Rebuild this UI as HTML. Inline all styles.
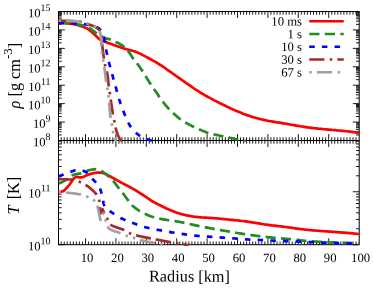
<!DOCTYPE html>
<html><head><meta charset="utf-8"><title>plot</title><style>html,body{margin:0;padding:0;background:#fff}svg{display:block;will-change:transform;opacity:.999}</style></head><body>
<svg width="374" height="288" viewBox="0 0 374 288" font-family="'Liberation Serif', 'Times New Roman', serif" fill="#000">
<defs><clipPath id="ct"><rect x="58.50" y="10.30" width="301.90" height="131.40"/></clipPath><clipPath id="cb"><rect x="58.50" y="139.30" width="301.90" height="106.60"/></clipPath></defs>
<rect width="374" height="288" fill="#fff"/>
<g stroke="#000" stroke-width="0.90"><line x1="61.18" y1="11.50" x2="61.18" y2="14.70"/><line x1="61.18" y1="137.30" x2="61.18" y2="143.70"/><line x1="61.18" y1="241.50" x2="61.18" y2="244.70"/><line x1="64.22" y1="11.50" x2="64.22" y2="14.70"/><line x1="64.22" y1="137.30" x2="64.22" y2="143.70"/><line x1="64.22" y1="241.50" x2="64.22" y2="244.70"/><line x1="67.26" y1="11.50" x2="67.26" y2="14.70"/><line x1="67.26" y1="137.30" x2="67.26" y2="143.70"/><line x1="67.26" y1="241.50" x2="67.26" y2="244.70"/><line x1="70.30" y1="11.50" x2="70.30" y2="14.70"/><line x1="70.30" y1="137.30" x2="70.30" y2="143.70"/><line x1="70.30" y1="241.50" x2="70.30" y2="244.70"/><line x1="73.34" y1="11.50" x2="73.34" y2="14.70"/><line x1="73.34" y1="137.30" x2="73.34" y2="143.70"/><line x1="73.34" y1="241.50" x2="73.34" y2="244.70"/><line x1="76.38" y1="11.50" x2="76.38" y2="14.70"/><line x1="76.38" y1="137.30" x2="76.38" y2="143.70"/><line x1="76.38" y1="241.50" x2="76.38" y2="244.70"/><line x1="79.42" y1="11.50" x2="79.42" y2="14.70"/><line x1="79.42" y1="137.30" x2="79.42" y2="143.70"/><line x1="79.42" y1="241.50" x2="79.42" y2="244.70"/><line x1="82.46" y1="11.50" x2="82.46" y2="14.70"/><line x1="82.46" y1="137.30" x2="82.46" y2="143.70"/><line x1="82.46" y1="241.50" x2="82.46" y2="244.70"/><line x1="85.50" y1="11.50" x2="85.50" y2="17.90"/><line x1="85.50" y1="134.10" x2="85.50" y2="146.90"/><line x1="85.50" y1="238.30" x2="85.50" y2="244.70"/><line x1="88.54" y1="11.50" x2="88.54" y2="14.70"/><line x1="88.54" y1="137.30" x2="88.54" y2="143.70"/><line x1="88.54" y1="241.50" x2="88.54" y2="244.70"/><line x1="91.58" y1="11.50" x2="91.58" y2="14.70"/><line x1="91.58" y1="137.30" x2="91.58" y2="143.70"/><line x1="91.58" y1="241.50" x2="91.58" y2="244.70"/><line x1="94.62" y1="11.50" x2="94.62" y2="14.70"/><line x1="94.62" y1="137.30" x2="94.62" y2="143.70"/><line x1="94.62" y1="241.50" x2="94.62" y2="244.70"/><line x1="97.66" y1="11.50" x2="97.66" y2="14.70"/><line x1="97.66" y1="137.30" x2="97.66" y2="143.70"/><line x1="97.66" y1="241.50" x2="97.66" y2="244.70"/><line x1="100.70" y1="11.50" x2="100.70" y2="14.70"/><line x1="100.70" y1="137.30" x2="100.70" y2="143.70"/><line x1="100.70" y1="241.50" x2="100.70" y2="244.70"/><line x1="103.74" y1="11.50" x2="103.74" y2="14.70"/><line x1="103.74" y1="137.30" x2="103.74" y2="143.70"/><line x1="103.74" y1="241.50" x2="103.74" y2="244.70"/><line x1="106.78" y1="11.50" x2="106.78" y2="14.70"/><line x1="106.78" y1="137.30" x2="106.78" y2="143.70"/><line x1="106.78" y1="241.50" x2="106.78" y2="244.70"/><line x1="109.82" y1="11.50" x2="109.82" y2="14.70"/><line x1="109.82" y1="137.30" x2="109.82" y2="143.70"/><line x1="109.82" y1="241.50" x2="109.82" y2="244.70"/><line x1="112.86" y1="11.50" x2="112.86" y2="14.70"/><line x1="112.86" y1="137.30" x2="112.86" y2="143.70"/><line x1="112.86" y1="241.50" x2="112.86" y2="244.70"/><line x1="115.90" y1="11.50" x2="115.90" y2="17.90"/><line x1="115.90" y1="134.10" x2="115.90" y2="146.90"/><line x1="115.90" y1="238.30" x2="115.90" y2="244.70"/><line x1="118.94" y1="11.50" x2="118.94" y2="14.70"/><line x1="118.94" y1="137.30" x2="118.94" y2="143.70"/><line x1="118.94" y1="241.50" x2="118.94" y2="244.70"/><line x1="121.98" y1="11.50" x2="121.98" y2="14.70"/><line x1="121.98" y1="137.30" x2="121.98" y2="143.70"/><line x1="121.98" y1="241.50" x2="121.98" y2="244.70"/><line x1="125.02" y1="11.50" x2="125.02" y2="14.70"/><line x1="125.02" y1="137.30" x2="125.02" y2="143.70"/><line x1="125.02" y1="241.50" x2="125.02" y2="244.70"/><line x1="128.06" y1="11.50" x2="128.06" y2="14.70"/><line x1="128.06" y1="137.30" x2="128.06" y2="143.70"/><line x1="128.06" y1="241.50" x2="128.06" y2="244.70"/><line x1="131.10" y1="11.50" x2="131.10" y2="14.70"/><line x1="131.10" y1="137.30" x2="131.10" y2="143.70"/><line x1="131.10" y1="241.50" x2="131.10" y2="244.70"/><line x1="134.14" y1="11.50" x2="134.14" y2="14.70"/><line x1="134.14" y1="137.30" x2="134.14" y2="143.70"/><line x1="134.14" y1="241.50" x2="134.14" y2="244.70"/><line x1="137.18" y1="11.50" x2="137.18" y2="14.70"/><line x1="137.18" y1="137.30" x2="137.18" y2="143.70"/><line x1="137.18" y1="241.50" x2="137.18" y2="244.70"/><line x1="140.22" y1="11.50" x2="140.22" y2="14.70"/><line x1="140.22" y1="137.30" x2="140.22" y2="143.70"/><line x1="140.22" y1="241.50" x2="140.22" y2="244.70"/><line x1="143.26" y1="11.50" x2="143.26" y2="14.70"/><line x1="143.26" y1="137.30" x2="143.26" y2="143.70"/><line x1="143.26" y1="241.50" x2="143.26" y2="244.70"/><line x1="146.30" y1="11.50" x2="146.30" y2="17.90"/><line x1="146.30" y1="134.10" x2="146.30" y2="146.90"/><line x1="146.30" y1="238.30" x2="146.30" y2="244.70"/><line x1="149.34" y1="11.50" x2="149.34" y2="14.70"/><line x1="149.34" y1="137.30" x2="149.34" y2="143.70"/><line x1="149.34" y1="241.50" x2="149.34" y2="244.70"/><line x1="152.38" y1="11.50" x2="152.38" y2="14.70"/><line x1="152.38" y1="137.30" x2="152.38" y2="143.70"/><line x1="152.38" y1="241.50" x2="152.38" y2="244.70"/><line x1="155.42" y1="11.50" x2="155.42" y2="14.70"/><line x1="155.42" y1="137.30" x2="155.42" y2="143.70"/><line x1="155.42" y1="241.50" x2="155.42" y2="244.70"/><line x1="158.46" y1="11.50" x2="158.46" y2="14.70"/><line x1="158.46" y1="137.30" x2="158.46" y2="143.70"/><line x1="158.46" y1="241.50" x2="158.46" y2="244.70"/><line x1="161.50" y1="11.50" x2="161.50" y2="14.70"/><line x1="161.50" y1="137.30" x2="161.50" y2="143.70"/><line x1="161.50" y1="241.50" x2="161.50" y2="244.70"/><line x1="164.54" y1="11.50" x2="164.54" y2="14.70"/><line x1="164.54" y1="137.30" x2="164.54" y2="143.70"/><line x1="164.54" y1="241.50" x2="164.54" y2="244.70"/><line x1="167.58" y1="11.50" x2="167.58" y2="14.70"/><line x1="167.58" y1="137.30" x2="167.58" y2="143.70"/><line x1="167.58" y1="241.50" x2="167.58" y2="244.70"/><line x1="170.62" y1="11.50" x2="170.62" y2="14.70"/><line x1="170.62" y1="137.30" x2="170.62" y2="143.70"/><line x1="170.62" y1="241.50" x2="170.62" y2="244.70"/><line x1="173.66" y1="11.50" x2="173.66" y2="14.70"/><line x1="173.66" y1="137.30" x2="173.66" y2="143.70"/><line x1="173.66" y1="241.50" x2="173.66" y2="244.70"/><line x1="176.70" y1="11.50" x2="176.70" y2="17.90"/><line x1="176.70" y1="134.10" x2="176.70" y2="146.90"/><line x1="176.70" y1="238.30" x2="176.70" y2="244.70"/><line x1="179.74" y1="11.50" x2="179.74" y2="14.70"/><line x1="179.74" y1="137.30" x2="179.74" y2="143.70"/><line x1="179.74" y1="241.50" x2="179.74" y2="244.70"/><line x1="182.78" y1="11.50" x2="182.78" y2="14.70"/><line x1="182.78" y1="137.30" x2="182.78" y2="143.70"/><line x1="182.78" y1="241.50" x2="182.78" y2="244.70"/><line x1="185.82" y1="11.50" x2="185.82" y2="14.70"/><line x1="185.82" y1="137.30" x2="185.82" y2="143.70"/><line x1="185.82" y1="241.50" x2="185.82" y2="244.70"/><line x1="188.86" y1="11.50" x2="188.86" y2="14.70"/><line x1="188.86" y1="137.30" x2="188.86" y2="143.70"/><line x1="188.86" y1="241.50" x2="188.86" y2="244.70"/><line x1="191.90" y1="11.50" x2="191.90" y2="14.70"/><line x1="191.90" y1="137.30" x2="191.90" y2="143.70"/><line x1="191.90" y1="241.50" x2="191.90" y2="244.70"/><line x1="194.94" y1="11.50" x2="194.94" y2="14.70"/><line x1="194.94" y1="137.30" x2="194.94" y2="143.70"/><line x1="194.94" y1="241.50" x2="194.94" y2="244.70"/><line x1="197.98" y1="11.50" x2="197.98" y2="14.70"/><line x1="197.98" y1="137.30" x2="197.98" y2="143.70"/><line x1="197.98" y1="241.50" x2="197.98" y2="244.70"/><line x1="201.02" y1="11.50" x2="201.02" y2="14.70"/><line x1="201.02" y1="137.30" x2="201.02" y2="143.70"/><line x1="201.02" y1="241.50" x2="201.02" y2="244.70"/><line x1="204.06" y1="11.50" x2="204.06" y2="14.70"/><line x1="204.06" y1="137.30" x2="204.06" y2="143.70"/><line x1="204.06" y1="241.50" x2="204.06" y2="244.70"/><line x1="207.10" y1="11.50" x2="207.10" y2="17.90"/><line x1="207.10" y1="134.10" x2="207.10" y2="146.90"/><line x1="207.10" y1="238.30" x2="207.10" y2="244.70"/><line x1="210.14" y1="11.50" x2="210.14" y2="14.70"/><line x1="210.14" y1="137.30" x2="210.14" y2="143.70"/><line x1="210.14" y1="241.50" x2="210.14" y2="244.70"/><line x1="213.18" y1="11.50" x2="213.18" y2="14.70"/><line x1="213.18" y1="137.30" x2="213.18" y2="143.70"/><line x1="213.18" y1="241.50" x2="213.18" y2="244.70"/><line x1="216.22" y1="11.50" x2="216.22" y2="14.70"/><line x1="216.22" y1="137.30" x2="216.22" y2="143.70"/><line x1="216.22" y1="241.50" x2="216.22" y2="244.70"/><line x1="219.26" y1="11.50" x2="219.26" y2="14.70"/><line x1="219.26" y1="137.30" x2="219.26" y2="143.70"/><line x1="219.26" y1="241.50" x2="219.26" y2="244.70"/><line x1="222.30" y1="11.50" x2="222.30" y2="14.70"/><line x1="222.30" y1="137.30" x2="222.30" y2="143.70"/><line x1="222.30" y1="241.50" x2="222.30" y2="244.70"/><line x1="225.34" y1="11.50" x2="225.34" y2="14.70"/><line x1="225.34" y1="137.30" x2="225.34" y2="143.70"/><line x1="225.34" y1="241.50" x2="225.34" y2="244.70"/><line x1="228.38" y1="11.50" x2="228.38" y2="14.70"/><line x1="228.38" y1="137.30" x2="228.38" y2="143.70"/><line x1="228.38" y1="241.50" x2="228.38" y2="244.70"/><line x1="231.42" y1="11.50" x2="231.42" y2="14.70"/><line x1="231.42" y1="137.30" x2="231.42" y2="143.70"/><line x1="231.42" y1="241.50" x2="231.42" y2="244.70"/><line x1="234.46" y1="11.50" x2="234.46" y2="14.70"/><line x1="234.46" y1="137.30" x2="234.46" y2="143.70"/><line x1="234.46" y1="241.50" x2="234.46" y2="244.70"/><line x1="237.50" y1="11.50" x2="237.50" y2="17.90"/><line x1="237.50" y1="134.10" x2="237.50" y2="146.90"/><line x1="237.50" y1="238.30" x2="237.50" y2="244.70"/><line x1="240.54" y1="11.50" x2="240.54" y2="14.70"/><line x1="240.54" y1="137.30" x2="240.54" y2="143.70"/><line x1="240.54" y1="241.50" x2="240.54" y2="244.70"/><line x1="243.58" y1="11.50" x2="243.58" y2="14.70"/><line x1="243.58" y1="137.30" x2="243.58" y2="143.70"/><line x1="243.58" y1="241.50" x2="243.58" y2="244.70"/><line x1="246.62" y1="11.50" x2="246.62" y2="14.70"/><line x1="246.62" y1="137.30" x2="246.62" y2="143.70"/><line x1="246.62" y1="241.50" x2="246.62" y2="244.70"/><line x1="249.66" y1="11.50" x2="249.66" y2="14.70"/><line x1="249.66" y1="137.30" x2="249.66" y2="143.70"/><line x1="249.66" y1="241.50" x2="249.66" y2="244.70"/><line x1="252.70" y1="11.50" x2="252.70" y2="14.70"/><line x1="252.70" y1="137.30" x2="252.70" y2="143.70"/><line x1="252.70" y1="241.50" x2="252.70" y2="244.70"/><line x1="255.74" y1="11.50" x2="255.74" y2="14.70"/><line x1="255.74" y1="137.30" x2="255.74" y2="143.70"/><line x1="255.74" y1="241.50" x2="255.74" y2="244.70"/><line x1="258.78" y1="11.50" x2="258.78" y2="14.70"/><line x1="258.78" y1="137.30" x2="258.78" y2="143.70"/><line x1="258.78" y1="241.50" x2="258.78" y2="244.70"/><line x1="261.82" y1="11.50" x2="261.82" y2="14.70"/><line x1="261.82" y1="137.30" x2="261.82" y2="143.70"/><line x1="261.82" y1="241.50" x2="261.82" y2="244.70"/><line x1="264.86" y1="11.50" x2="264.86" y2="14.70"/><line x1="264.86" y1="137.30" x2="264.86" y2="143.70"/><line x1="264.86" y1="241.50" x2="264.86" y2="244.70"/><line x1="267.90" y1="11.50" x2="267.90" y2="17.90"/><line x1="267.90" y1="134.10" x2="267.90" y2="146.90"/><line x1="267.90" y1="238.30" x2="267.90" y2="244.70"/><line x1="270.94" y1="11.50" x2="270.94" y2="14.70"/><line x1="270.94" y1="137.30" x2="270.94" y2="143.70"/><line x1="270.94" y1="241.50" x2="270.94" y2="244.70"/><line x1="273.98" y1="11.50" x2="273.98" y2="14.70"/><line x1="273.98" y1="137.30" x2="273.98" y2="143.70"/><line x1="273.98" y1="241.50" x2="273.98" y2="244.70"/><line x1="277.02" y1="11.50" x2="277.02" y2="14.70"/><line x1="277.02" y1="137.30" x2="277.02" y2="143.70"/><line x1="277.02" y1="241.50" x2="277.02" y2="244.70"/><line x1="280.06" y1="11.50" x2="280.06" y2="14.70"/><line x1="280.06" y1="137.30" x2="280.06" y2="143.70"/><line x1="280.06" y1="241.50" x2="280.06" y2="244.70"/><line x1="283.10" y1="11.50" x2="283.10" y2="14.70"/><line x1="283.10" y1="137.30" x2="283.10" y2="143.70"/><line x1="283.10" y1="241.50" x2="283.10" y2="244.70"/><line x1="286.14" y1="11.50" x2="286.14" y2="14.70"/><line x1="286.14" y1="137.30" x2="286.14" y2="143.70"/><line x1="286.14" y1="241.50" x2="286.14" y2="244.70"/><line x1="289.18" y1="11.50" x2="289.18" y2="14.70"/><line x1="289.18" y1="137.30" x2="289.18" y2="143.70"/><line x1="289.18" y1="241.50" x2="289.18" y2="244.70"/><line x1="292.22" y1="11.50" x2="292.22" y2="14.70"/><line x1="292.22" y1="137.30" x2="292.22" y2="143.70"/><line x1="292.22" y1="241.50" x2="292.22" y2="244.70"/><line x1="295.26" y1="11.50" x2="295.26" y2="14.70"/><line x1="295.26" y1="137.30" x2="295.26" y2="143.70"/><line x1="295.26" y1="241.50" x2="295.26" y2="244.70"/><line x1="298.30" y1="11.50" x2="298.30" y2="17.90"/><line x1="298.30" y1="134.10" x2="298.30" y2="146.90"/><line x1="298.30" y1="238.30" x2="298.30" y2="244.70"/><line x1="301.34" y1="11.50" x2="301.34" y2="14.70"/><line x1="301.34" y1="137.30" x2="301.34" y2="143.70"/><line x1="301.34" y1="241.50" x2="301.34" y2="244.70"/><line x1="304.38" y1="11.50" x2="304.38" y2="14.70"/><line x1="304.38" y1="137.30" x2="304.38" y2="143.70"/><line x1="304.38" y1="241.50" x2="304.38" y2="244.70"/><line x1="307.42" y1="11.50" x2="307.42" y2="14.70"/><line x1="307.42" y1="137.30" x2="307.42" y2="143.70"/><line x1="307.42" y1="241.50" x2="307.42" y2="244.70"/><line x1="310.46" y1="11.50" x2="310.46" y2="14.70"/><line x1="310.46" y1="137.30" x2="310.46" y2="143.70"/><line x1="310.46" y1="241.50" x2="310.46" y2="244.70"/><line x1="313.50" y1="11.50" x2="313.50" y2="14.70"/><line x1="313.50" y1="137.30" x2="313.50" y2="143.70"/><line x1="313.50" y1="241.50" x2="313.50" y2="244.70"/><line x1="316.54" y1="11.50" x2="316.54" y2="14.70"/><line x1="316.54" y1="137.30" x2="316.54" y2="143.70"/><line x1="316.54" y1="241.50" x2="316.54" y2="244.70"/><line x1="319.58" y1="11.50" x2="319.58" y2="14.70"/><line x1="319.58" y1="137.30" x2="319.58" y2="143.70"/><line x1="319.58" y1="241.50" x2="319.58" y2="244.70"/><line x1="322.62" y1="11.50" x2="322.62" y2="14.70"/><line x1="322.62" y1="137.30" x2="322.62" y2="143.70"/><line x1="322.62" y1="241.50" x2="322.62" y2="244.70"/><line x1="325.66" y1="11.50" x2="325.66" y2="14.70"/><line x1="325.66" y1="137.30" x2="325.66" y2="143.70"/><line x1="325.66" y1="241.50" x2="325.66" y2="244.70"/><line x1="328.70" y1="11.50" x2="328.70" y2="17.90"/><line x1="328.70" y1="134.10" x2="328.70" y2="146.90"/><line x1="328.70" y1="238.30" x2="328.70" y2="244.70"/><line x1="331.74" y1="11.50" x2="331.74" y2="14.70"/><line x1="331.74" y1="137.30" x2="331.74" y2="143.70"/><line x1="331.74" y1="241.50" x2="331.74" y2="244.70"/><line x1="334.78" y1="11.50" x2="334.78" y2="14.70"/><line x1="334.78" y1="137.30" x2="334.78" y2="143.70"/><line x1="334.78" y1="241.50" x2="334.78" y2="244.70"/><line x1="337.82" y1="11.50" x2="337.82" y2="14.70"/><line x1="337.82" y1="137.30" x2="337.82" y2="143.70"/><line x1="337.82" y1="241.50" x2="337.82" y2="244.70"/><line x1="340.86" y1="11.50" x2="340.86" y2="14.70"/><line x1="340.86" y1="137.30" x2="340.86" y2="143.70"/><line x1="340.86" y1="241.50" x2="340.86" y2="244.70"/><line x1="343.90" y1="11.50" x2="343.90" y2="14.70"/><line x1="343.90" y1="137.30" x2="343.90" y2="143.70"/><line x1="343.90" y1="241.50" x2="343.90" y2="244.70"/><line x1="346.94" y1="11.50" x2="346.94" y2="14.70"/><line x1="346.94" y1="137.30" x2="346.94" y2="143.70"/><line x1="346.94" y1="241.50" x2="346.94" y2="244.70"/><line x1="349.98" y1="11.50" x2="349.98" y2="14.70"/><line x1="349.98" y1="137.30" x2="349.98" y2="143.70"/><line x1="349.98" y1="241.50" x2="349.98" y2="244.70"/><line x1="353.02" y1="11.50" x2="353.02" y2="14.70"/><line x1="353.02" y1="137.30" x2="353.02" y2="143.70"/><line x1="353.02" y1="241.50" x2="353.02" y2="244.70"/><line x1="356.06" y1="11.50" x2="356.06" y2="14.70"/><line x1="356.06" y1="137.30" x2="356.06" y2="143.70"/><line x1="356.06" y1="241.50" x2="356.06" y2="244.70"/><line x1="58.50" y1="140.50" x2="64.90" y2="140.50"/><line x1="352.80" y1="140.50" x2="359.20" y2="140.50"/><line x1="58.50" y1="134.95" x2="61.70" y2="134.95"/><line x1="356.00" y1="134.95" x2="359.20" y2="134.95"/><line x1="58.50" y1="131.71" x2="61.70" y2="131.71"/><line x1="356.00" y1="131.71" x2="359.20" y2="131.71"/><line x1="58.50" y1="129.40" x2="61.70" y2="129.40"/><line x1="356.00" y1="129.40" x2="359.20" y2="129.40"/><line x1="58.50" y1="127.62" x2="61.70" y2="127.62"/><line x1="356.00" y1="127.62" x2="359.20" y2="127.62"/><line x1="58.50" y1="126.16" x2="61.70" y2="126.16"/><line x1="356.00" y1="126.16" x2="359.20" y2="126.16"/><line x1="58.50" y1="124.93" x2="61.70" y2="124.93"/><line x1="356.00" y1="124.93" x2="359.20" y2="124.93"/><line x1="58.50" y1="123.86" x2="61.70" y2="123.86"/><line x1="356.00" y1="123.86" x2="359.20" y2="123.86"/><line x1="58.50" y1="122.91" x2="61.70" y2="122.91"/><line x1="356.00" y1="122.91" x2="359.20" y2="122.91"/><line x1="58.50" y1="122.07" x2="64.90" y2="122.07"/><line x1="352.80" y1="122.07" x2="359.20" y2="122.07"/><line x1="58.50" y1="116.52" x2="61.70" y2="116.52"/><line x1="356.00" y1="116.52" x2="359.20" y2="116.52"/><line x1="58.50" y1="113.28" x2="61.70" y2="113.28"/><line x1="356.00" y1="113.28" x2="359.20" y2="113.28"/><line x1="58.50" y1="110.98" x2="61.70" y2="110.98"/><line x1="356.00" y1="110.98" x2="359.20" y2="110.98"/><line x1="58.50" y1="109.19" x2="61.70" y2="109.19"/><line x1="356.00" y1="109.19" x2="359.20" y2="109.19"/><line x1="58.50" y1="107.73" x2="61.70" y2="107.73"/><line x1="356.00" y1="107.73" x2="359.20" y2="107.73"/><line x1="58.50" y1="106.50" x2="61.70" y2="106.50"/><line x1="356.00" y1="106.50" x2="359.20" y2="106.50"/><line x1="58.50" y1="105.43" x2="61.70" y2="105.43"/><line x1="356.00" y1="105.43" x2="359.20" y2="105.43"/><line x1="58.50" y1="104.49" x2="61.70" y2="104.49"/><line x1="356.00" y1="104.49" x2="359.20" y2="104.49"/><line x1="58.50" y1="103.64" x2="64.90" y2="103.64"/><line x1="352.80" y1="103.64" x2="359.20" y2="103.64"/><line x1="58.50" y1="98.10" x2="61.70" y2="98.10"/><line x1="356.00" y1="98.10" x2="359.20" y2="98.10"/><line x1="58.50" y1="94.85" x2="61.70" y2="94.85"/><line x1="356.00" y1="94.85" x2="359.20" y2="94.85"/><line x1="58.50" y1="92.55" x2="61.70" y2="92.55"/><line x1="356.00" y1="92.55" x2="359.20" y2="92.55"/><line x1="58.50" y1="90.76" x2="61.70" y2="90.76"/><line x1="356.00" y1="90.76" x2="359.20" y2="90.76"/><line x1="58.50" y1="89.30" x2="61.70" y2="89.30"/><line x1="356.00" y1="89.30" x2="359.20" y2="89.30"/><line x1="58.50" y1="88.07" x2="61.70" y2="88.07"/><line x1="356.00" y1="88.07" x2="359.20" y2="88.07"/><line x1="58.50" y1="87.00" x2="61.70" y2="87.00"/><line x1="356.00" y1="87.00" x2="359.20" y2="87.00"/><line x1="58.50" y1="86.06" x2="61.70" y2="86.06"/><line x1="356.00" y1="86.06" x2="359.20" y2="86.06"/><line x1="58.50" y1="85.21" x2="64.90" y2="85.21"/><line x1="352.80" y1="85.21" x2="359.20" y2="85.21"/><line x1="58.50" y1="79.67" x2="61.70" y2="79.67"/><line x1="356.00" y1="79.67" x2="359.20" y2="79.67"/><line x1="58.50" y1="76.42" x2="61.70" y2="76.42"/><line x1="356.00" y1="76.42" x2="359.20" y2="76.42"/><line x1="58.50" y1="74.12" x2="61.70" y2="74.12"/><line x1="356.00" y1="74.12" x2="359.20" y2="74.12"/><line x1="58.50" y1="72.33" x2="61.70" y2="72.33"/><line x1="356.00" y1="72.33" x2="359.20" y2="72.33"/><line x1="58.50" y1="70.87" x2="61.70" y2="70.87"/><line x1="356.00" y1="70.87" x2="359.20" y2="70.87"/><line x1="58.50" y1="69.64" x2="61.70" y2="69.64"/><line x1="356.00" y1="69.64" x2="359.20" y2="69.64"/><line x1="58.50" y1="68.57" x2="61.70" y2="68.57"/><line x1="356.00" y1="68.57" x2="359.20" y2="68.57"/><line x1="58.50" y1="67.63" x2="61.70" y2="67.63"/><line x1="356.00" y1="67.63" x2="359.20" y2="67.63"/><line x1="58.50" y1="66.79" x2="64.90" y2="66.79"/><line x1="352.80" y1="66.79" x2="359.20" y2="66.79"/><line x1="58.50" y1="61.24" x2="61.70" y2="61.24"/><line x1="356.00" y1="61.24" x2="359.20" y2="61.24"/><line x1="58.50" y1="57.99" x2="61.70" y2="57.99"/><line x1="356.00" y1="57.99" x2="359.20" y2="57.99"/><line x1="58.50" y1="55.69" x2="61.70" y2="55.69"/><line x1="356.00" y1="55.69" x2="359.20" y2="55.69"/><line x1="58.50" y1="53.90" x2="61.70" y2="53.90"/><line x1="356.00" y1="53.90" x2="359.20" y2="53.90"/><line x1="58.50" y1="52.45" x2="61.70" y2="52.45"/><line x1="356.00" y1="52.45" x2="359.20" y2="52.45"/><line x1="58.50" y1="51.21" x2="61.70" y2="51.21"/><line x1="356.00" y1="51.21" x2="359.20" y2="51.21"/><line x1="58.50" y1="50.14" x2="61.70" y2="50.14"/><line x1="356.00" y1="50.14" x2="359.20" y2="50.14"/><line x1="58.50" y1="49.20" x2="61.70" y2="49.20"/><line x1="356.00" y1="49.20" x2="359.20" y2="49.20"/><line x1="58.50" y1="48.36" x2="64.90" y2="48.36"/><line x1="352.80" y1="48.36" x2="359.20" y2="48.36"/><line x1="58.50" y1="42.81" x2="61.70" y2="42.81"/><line x1="356.00" y1="42.81" x2="359.20" y2="42.81"/><line x1="58.50" y1="39.56" x2="61.70" y2="39.56"/><line x1="356.00" y1="39.56" x2="359.20" y2="39.56"/><line x1="58.50" y1="37.26" x2="61.70" y2="37.26"/><line x1="356.00" y1="37.26" x2="359.20" y2="37.26"/><line x1="58.50" y1="35.48" x2="61.70" y2="35.48"/><line x1="356.00" y1="35.48" x2="359.20" y2="35.48"/><line x1="58.50" y1="34.02" x2="61.70" y2="34.02"/><line x1="356.00" y1="34.02" x2="359.20" y2="34.02"/><line x1="58.50" y1="32.78" x2="61.70" y2="32.78"/><line x1="356.00" y1="32.78" x2="359.20" y2="32.78"/><line x1="58.50" y1="31.71" x2="61.70" y2="31.71"/><line x1="356.00" y1="31.71" x2="359.20" y2="31.71"/><line x1="58.50" y1="30.77" x2="61.70" y2="30.77"/><line x1="356.00" y1="30.77" x2="359.20" y2="30.77"/><line x1="58.50" y1="29.93" x2="64.90" y2="29.93"/><line x1="352.80" y1="29.93" x2="359.20" y2="29.93"/><line x1="58.50" y1="24.38" x2="61.70" y2="24.38"/><line x1="356.00" y1="24.38" x2="359.20" y2="24.38"/><line x1="58.50" y1="21.14" x2="61.70" y2="21.14"/><line x1="356.00" y1="21.14" x2="359.20" y2="21.14"/><line x1="58.50" y1="18.83" x2="61.70" y2="18.83"/><line x1="356.00" y1="18.83" x2="359.20" y2="18.83"/><line x1="58.50" y1="17.05" x2="61.70" y2="17.05"/><line x1="356.00" y1="17.05" x2="359.20" y2="17.05"/><line x1="58.50" y1="15.59" x2="61.70" y2="15.59"/><line x1="356.00" y1="15.59" x2="359.20" y2="15.59"/><line x1="58.50" y1="14.35" x2="61.70" y2="14.35"/><line x1="356.00" y1="14.35" x2="359.20" y2="14.35"/><line x1="58.50" y1="13.29" x2="61.70" y2="13.29"/><line x1="356.00" y1="13.29" x2="359.20" y2="13.29"/><line x1="58.50" y1="12.34" x2="61.70" y2="12.34"/><line x1="356.00" y1="12.34" x2="359.20" y2="12.34"/><line x1="58.50" y1="11.50" x2="64.90" y2="11.50"/><line x1="352.80" y1="11.50" x2="359.20" y2="11.50"/><line x1="58.50" y1="244.70" x2="64.90" y2="244.70"/><line x1="352.80" y1="244.70" x2="359.20" y2="244.70"/><line x1="58.50" y1="228.76" x2="61.70" y2="228.76"/><line x1="356.00" y1="228.76" x2="359.20" y2="228.76"/><line x1="58.50" y1="219.44" x2="61.70" y2="219.44"/><line x1="356.00" y1="219.44" x2="359.20" y2="219.44"/><line x1="58.50" y1="212.82" x2="61.70" y2="212.82"/><line x1="356.00" y1="212.82" x2="359.20" y2="212.82"/><line x1="58.50" y1="207.69" x2="61.70" y2="207.69"/><line x1="356.00" y1="207.69" x2="359.20" y2="207.69"/><line x1="58.50" y1="203.50" x2="61.70" y2="203.50"/><line x1="356.00" y1="203.50" x2="359.20" y2="203.50"/><line x1="58.50" y1="199.95" x2="61.70" y2="199.95"/><line x1="356.00" y1="199.95" x2="359.20" y2="199.95"/><line x1="58.50" y1="196.88" x2="61.70" y2="196.88"/><line x1="356.00" y1="196.88" x2="359.20" y2="196.88"/><line x1="58.50" y1="194.17" x2="61.70" y2="194.17"/><line x1="356.00" y1="194.17" x2="359.20" y2="194.17"/><line x1="58.50" y1="191.75" x2="64.90" y2="191.75"/><line x1="352.80" y1="191.75" x2="359.20" y2="191.75"/><line x1="58.50" y1="175.81" x2="61.70" y2="175.81"/><line x1="356.00" y1="175.81" x2="359.20" y2="175.81"/><line x1="58.50" y1="166.49" x2="61.70" y2="166.49"/><line x1="356.00" y1="166.49" x2="359.20" y2="166.49"/><line x1="58.50" y1="159.87" x2="61.70" y2="159.87"/><line x1="356.00" y1="159.87" x2="359.20" y2="159.87"/><line x1="58.50" y1="154.74" x2="61.70" y2="154.74"/><line x1="356.00" y1="154.74" x2="359.20" y2="154.74"/><line x1="58.50" y1="150.55" x2="61.70" y2="150.55"/><line x1="356.00" y1="150.55" x2="359.20" y2="150.55"/><line x1="58.50" y1="147.00" x2="61.70" y2="147.00"/><line x1="356.00" y1="147.00" x2="359.20" y2="147.00"/><line x1="58.50" y1="143.93" x2="61.70" y2="143.93"/><line x1="356.00" y1="143.93" x2="359.20" y2="143.93"/><line x1="58.50" y1="141.22" x2="61.70" y2="141.22"/><line x1="356.00" y1="141.22" x2="359.20" y2="141.22"/></g>
<g stroke="#000" stroke-width="1" fill="none"><rect x="58.50" y="11.50" width="300.70" height="233.20"/><line x1="58.50" y1="140.50" x2="359.20" y2="140.50"/></g>
<path d="M58.50,22.70 L59.35,22.77 L60.21,22.83 L61.08,22.89 L61.95,22.95 L62.83,23.01 L63.70,23.07 L64.56,23.13 L65.41,23.20 L66.24,23.26 L67.05,23.34 L67.84,23.42 L68.60,23.50 L69.19,23.57 L69.76,23.64 L70.31,23.71 L70.85,23.78 L71.38,23.86 L71.91,23.93 L72.43,24.02 L72.94,24.10 L73.45,24.19 L73.96,24.29 L74.48,24.39 L75.00,24.50 L75.52,24.61 L76.03,24.73 L76.54,24.86 L77.05,24.99 L77.56,25.12 L78.06,25.26 L78.57,25.41 L79.08,25.55 L79.58,25.71 L80.09,25.87 L80.59,26.03 L81.10,26.20 L81.63,26.38 L82.16,26.55 L82.69,26.72 L83.22,26.90 L83.75,27.08 L84.28,27.27 L84.81,27.47 L85.34,27.69 L85.86,27.91 L86.38,28.15 L86.89,28.42 L87.40,28.70 L87.95,29.04 L88.49,29.40 L89.02,29.79 L89.55,30.20 L90.08,30.63 L90.60,31.07 L91.12,31.52 L91.63,31.97 L92.15,32.43 L92.67,32.89 L93.18,33.35 L93.70,33.80 L94.22,34.26 L94.74,34.75 L95.24,35.24 L95.74,35.74 L96.24,36.25 L96.74,36.75 L97.24,37.25 L97.76,37.74 L98.29,38.21 L98.84,38.67 L99.41,39.10 L100.00,39.50 L100.65,39.89 L101.32,40.26 L102.01,40.59 L102.71,40.91 L103.43,41.21 L104.16,41.50 L104.90,41.78 L105.66,42.05 L106.43,42.33 L107.21,42.61 L108.00,42.90 L108.80,43.20 L109.79,43.57 L110.83,43.96 L111.93,44.35 L113.05,44.75 L114.19,45.15 L115.34,45.55 L116.47,45.93 L117.57,46.31 L118.63,46.67 L119.63,47.00 L120.56,47.32 L121.40,47.60 L121.86,47.75 L122.28,47.90 L122.67,48.03 L123.03,48.15 L123.38,48.27 L123.73,48.38 L124.07,48.50 L124.42,48.61 L124.78,48.72 L125.15,48.84 L125.56,48.97 L126.00,49.10 L126.70,49.30 L127.44,49.50 L128.22,49.70 L129.03,49.90 L129.87,50.10 L130.73,50.32 L131.61,50.54 L132.49,50.77 L133.38,51.03 L134.26,51.30 L135.14,51.59 L136.00,51.90 L136.96,52.28 L137.92,52.70 L138.89,53.14 L139.87,53.60 L140.85,54.08 L141.83,54.58 L142.81,55.09 L143.80,55.61 L144.78,56.13 L145.76,56.66 L146.73,57.18 L147.70,57.70 L148.67,58.22 L149.64,58.74 L150.60,59.26 L151.56,59.78 L152.52,60.31 L153.48,60.85 L154.44,61.40 L155.40,61.95 L156.37,62.52 L157.34,63.10 L158.32,63.69 L159.30,64.30 L160.39,64.99 L161.49,65.71 L162.60,66.45 L163.71,67.20 L164.82,67.96 L165.94,68.74 L167.06,69.53 L168.18,70.32 L169.31,71.12 L170.44,71.91 L171.57,72.71 L172.70,73.50 L173.88,74.32 L175.06,75.16 L176.26,76.00 L177.45,76.85 L178.65,77.71 L179.85,78.56 L181.05,79.42 L182.24,80.27 L183.44,81.11 L184.63,81.95 L185.82,82.78 L187.00,83.60 L188.13,84.38 L189.26,85.16 L190.38,85.94 L191.50,86.71 L192.62,87.49 L193.74,88.25 L194.86,89.01 L195.97,89.75 L197.08,90.49 L198.19,91.21 L199.30,91.91 L200.40,92.60 L201.43,93.23 L202.47,93.84 L203.51,94.46 L204.56,95.06 L205.60,95.65 L206.64,96.23 L207.67,96.79 L208.68,97.35 L209.68,97.89 L210.65,98.41 L211.59,98.91 L212.50,99.40 L213.17,99.76 L213.81,100.10 L214.43,100.41 L215.02,100.72 L215.60,101.02 L216.18,101.31 L216.76,101.60 L217.35,101.90 L217.97,102.20 L218.61,102.52 L219.28,102.85 L220.00,103.20 L221.11,103.75 L222.29,104.33 L223.53,104.94 L224.82,105.58 L226.15,106.23 L227.51,106.89 L228.90,107.56 L230.29,108.22 L231.69,108.87 L233.08,109.50 L234.45,110.12 L235.80,110.70 L237.11,111.25 L238.43,111.80 L239.75,112.34 L241.07,112.87 L242.39,113.40 L243.72,113.91 L245.04,114.41 L246.37,114.89 L247.70,115.37 L249.03,115.83 L250.37,116.27 L251.70,116.70 L253.01,117.10 L254.32,117.49 L255.63,117.86 L256.94,118.22 L258.26,118.57 L259.57,118.90 L260.89,119.23 L262.21,119.54 L263.53,119.84 L264.85,120.14 L266.18,120.42 L267.50,120.70 L268.83,120.97 L270.18,121.22 L271.54,121.45 L272.91,121.68 L274.28,121.90 L275.64,122.10 L276.99,122.31 L278.33,122.51 L279.65,122.70 L280.93,122.90 L282.19,123.10 L283.40,123.30 L284.35,123.47 L285.27,123.63 L286.15,123.79 L287.01,123.94 L287.86,124.10 L288.70,124.25 L289.54,124.41 L290.39,124.56 L291.25,124.72 L292.14,124.88 L293.05,125.04 L294.00,125.20 L295.20,125.40 L296.43,125.61 L297.68,125.83 L298.96,126.04 L300.27,126.26 L301.59,126.48 L302.93,126.70 L304.28,126.91 L305.65,127.12 L307.02,127.32 L308.41,127.51 L309.80,127.70 L311.37,127.90 L312.97,128.08 L314.59,128.26 L316.23,128.43 L317.89,128.60 L319.56,128.76 L321.23,128.92 L322.91,129.07 L324.60,129.23 L326.27,129.38 L327.94,129.54 L329.60,129.70 L331.27,129.86 L332.98,130.02 L334.72,130.18 L336.46,130.34 L338.21,130.49 L339.95,130.65 L341.66,130.80 L343.33,130.96 L344.95,131.12 L346.51,131.28 L348.00,131.44 L349.40,131.60 L350.32,131.71 L351.20,131.83 L352.04,131.95 L352.86,132.06 L353.65,132.18 L354.42,132.30 L355.18,132.41 L355.93,132.53 L356.68,132.65 L357.44,132.77 L358.21,132.88 L359.00,133.00" fill="none" stroke="#ff0000" stroke-width="2.70" stroke-linejoin="round" clip-path="url(#ct)"/>
<path d="M58.50,22.70 L59.34,22.75 L60.17,22.79 L61.00,22.83 L61.83,22.87 L62.66,22.91 L63.49,22.95 L64.32,22.99 L65.16,23.04 L66.00,23.09 L66.86,23.15 L67.72,23.22 L68.60,23.30 L69.61,23.40 L70.66,23.51 L71.74,23.63 L72.83,23.75 L73.94,23.88 L75.04,24.02 L76.14,24.17 L77.21,24.32 L78.25,24.48 L79.25,24.65 L80.21,24.82 L81.10,25.00 L81.71,25.13 L82.29,25.25 L82.85,25.37 L83.39,25.48 L83.91,25.61 L84.42,25.73 L84.92,25.87 L85.42,26.02 L85.91,26.19 L86.40,26.37 L86.90,26.57 L87.40,26.80 L87.95,27.08 L88.50,27.40 L89.05,27.75 L89.60,28.12 L90.14,28.51 L90.68,28.91 L91.21,29.32 L91.74,29.73 L92.25,30.12 L92.75,30.51 L93.23,30.87 L93.70,31.20 L94.05,31.44 L94.39,31.67 L94.71,31.90 L95.03,32.12 L95.34,32.33 L95.65,32.54 L95.96,32.75 L96.26,32.96 L96.56,33.16 L96.87,33.37 L97.18,33.58 L97.50,33.80 L97.83,34.03 L98.15,34.26 L98.48,34.49 L98.80,34.73 L99.13,34.97 L99.45,35.20 L99.78,35.43 L100.12,35.66 L100.45,35.88 L100.80,36.10 L101.14,36.30 L101.50,36.50 L101.88,36.69 L102.26,36.88 L102.65,37.05 L103.04,37.22 L103.44,37.38 L103.84,37.54 L104.25,37.69 L104.66,37.84 L105.07,37.98 L105.48,38.12 L105.89,38.26 L106.30,38.40 L106.72,38.53 L107.14,38.65 L107.57,38.77 L108.00,38.87 L108.44,38.98 L108.87,39.08 L109.30,39.18 L109.73,39.29 L110.16,39.40 L110.58,39.52 L110.99,39.65 L111.40,39.80 L111.78,39.95 L112.16,40.12 L112.54,40.29 L112.91,40.48 L113.27,40.66 L113.64,40.86 L114.00,41.05 L114.36,41.25 L114.72,41.44 L115.08,41.63 L115.44,41.82 L115.80,42.00 L116.15,42.17 L116.51,42.33 L116.86,42.50 L117.22,42.66 L117.57,42.81 L117.92,42.97 L118.28,43.13 L118.63,43.29 L118.97,43.46 L119.32,43.63 L119.66,43.81 L120.00,44.00 L120.34,44.19 L120.67,44.39 L121.00,44.58 L121.33,44.78 L121.66,44.98 L121.99,45.19 L122.31,45.40 L122.63,45.62 L122.95,45.85 L123.27,46.09 L123.59,46.34 L123.90,46.60 L124.25,46.91 L124.60,47.22 L124.94,47.55 L125.28,47.89 L125.62,48.24 L125.95,48.60 L126.29,48.97 L126.62,49.35 L126.96,49.74 L127.30,50.15 L127.65,50.57 L128.00,51.00 L128.46,51.59 L128.93,52.23 L129.41,52.90 L129.89,53.60 L130.38,54.32 L130.87,55.06 L131.36,55.79 L131.84,56.52 L132.32,57.24 L132.79,57.93 L133.25,58.58 L133.70,59.20 L134.05,59.66 L134.39,60.10 L134.73,60.52 L135.06,60.93 L135.39,61.33 L135.72,61.72 L136.04,62.11 L136.37,62.50 L136.70,62.90 L137.03,63.32 L137.36,63.75 L137.70,64.20 L138.11,64.75 L138.51,65.32 L138.93,65.90 L139.34,66.49 L139.76,67.10 L140.18,67.71 L140.60,68.33 L141.02,68.96 L141.44,69.59 L141.86,70.23 L142.28,70.86 L142.70,71.50 L143.14,72.18 L143.58,72.88 L144.02,73.58 L144.47,74.28 L144.91,75.00 L145.35,75.72 L145.79,76.43 L146.23,77.15 L146.67,77.87 L147.11,78.59 L147.56,79.30 L148.00,80.00 L148.44,80.70 L148.89,81.41 L149.34,82.12 L149.79,82.84 L150.25,83.55 L150.70,84.26 L151.15,84.96 L151.60,85.65 L152.04,86.32 L152.47,86.97 L152.89,87.60 L153.30,88.20 L153.61,88.64 L153.92,89.06 L154.22,89.47 L154.52,89.86 L154.81,90.24 L155.10,90.62 L155.39,90.99 L155.67,91.36 L155.96,91.73 L156.24,92.11 L156.52,92.50 L156.80,92.90 L157.08,93.32 L157.35,93.73 L157.61,94.15 L157.87,94.57 L158.12,94.99 L158.38,95.42 L158.64,95.85 L158.90,96.28 L159.18,96.73 L159.47,97.18 L159.78,97.63 L160.10,98.10 L160.55,98.73 L161.05,99.40 L161.57,100.09 L162.11,100.80 L162.67,101.52 L163.24,102.24 L163.82,102.96 L164.39,103.67 L164.95,104.35 L165.49,105.01 L166.01,105.63 L166.50,106.20 L166.83,106.59 L167.15,106.95 L167.45,107.29 L167.74,107.62 L168.03,107.94 L168.32,108.25 L168.61,108.56 L168.90,108.87 L169.20,109.19 L169.52,109.51 L169.85,109.85 L170.20,110.20 L170.69,110.69 L171.22,111.20 L171.77,111.74 L172.35,112.29 L172.94,112.85 L173.55,113.41 L174.15,113.96 L174.75,114.51 L175.34,115.05 L175.92,115.56 L176.47,116.05 L177.00,116.50 L177.38,116.83 L177.74,117.14 L178.09,117.43 L178.43,117.72 L178.76,117.99 L179.09,118.26 L179.42,118.53 L179.76,118.79 L180.12,119.06 L180.49,119.33 L180.88,119.61 L181.30,119.90 L181.91,120.31 L182.55,120.73 L183.23,121.15 L183.93,121.59 L184.66,122.02 L185.41,122.46 L186.17,122.90 L186.94,123.34 L187.71,123.77 L188.48,124.19 L189.24,124.60 L190.00,125.00 L190.76,125.40 L191.53,125.79 L192.31,126.17 L193.09,126.55 L193.88,126.92 L194.67,127.29 L195.46,127.66 L196.25,128.01 L197.04,128.37 L197.83,128.72 L198.62,129.06 L199.40,129.40 L200.16,129.73 L200.91,130.05 L201.66,130.37 L202.40,130.69 L203.15,131.01 L203.90,131.32 L204.65,131.62 L205.40,131.91 L206.16,132.20 L206.93,132.48 L207.71,132.74 L208.50,133.00 L209.34,133.26 L210.19,133.50 L211.05,133.72 L211.92,133.94 L212.79,134.15 L213.68,134.35 L214.56,134.54 L215.45,134.73 L216.34,134.92 L217.23,135.11 L218.11,135.30 L219.00,135.50 L219.90,135.70 L220.82,135.90 L221.73,136.09 L222.66,136.29 L223.58,136.48 L224.51,136.67 L225.43,136.86 L226.34,137.05 L227.25,137.24 L228.15,137.42 L229.03,137.61 L229.90,137.80 L230.68,137.97 L231.45,138.14 L232.21,138.32 L232.97,138.49 L233.72,138.66 L234.46,138.83 L235.20,139.00 L235.94,139.17 L236.66,139.33 L237.38,139.49 L238.09,139.65 L238.80,139.80 L239.43,139.93 L240.04,140.05 L240.65,140.18 L241.25,140.29 L241.85,140.41 L242.45,140.52 L243.04,140.64 L243.63,140.75 L244.22,140.86 L244.81,140.97 L245.40,141.08 L246.00,141.20" fill="none" stroke="#228b22" stroke-width="2.70" stroke-linejoin="round" stroke-dasharray="10.10,5.30" stroke-dashoffset="0.00" clip-path="url(#ct)"/>
<path d="M58.50,22.70 L59.77,22.77 L61.04,22.83 L62.33,22.90 L63.61,22.96 L64.90,23.03 L66.19,23.09 L67.46,23.16 L68.73,23.22 L69.98,23.29 L71.21,23.36 L72.42,23.43 L73.60,23.50 L74.61,23.56 L75.60,23.62 L76.59,23.67 L77.56,23.72 L78.52,23.77 L79.47,23.83 L80.41,23.89 L81.34,23.95 L82.25,24.02 L83.15,24.11 L84.03,24.20 L84.90,24.30 L85.63,24.39 L86.35,24.49 L87.05,24.58 L87.75,24.68 L88.44,24.78 L89.12,24.89 L89.78,25.01 L90.44,25.14 L91.10,25.28 L91.74,25.44 L92.37,25.61 L93.00,25.80 L93.58,25.99 L94.17,26.18 L94.76,26.39 L95.34,26.60 L95.92,26.83 L96.49,27.07 L97.04,27.32 L97.57,27.58 L98.08,27.86 L98.55,28.15 L99.00,28.47 L99.40,28.80 L99.71,29.09 L99.98,29.40 L100.24,29.71 L100.47,30.04 L100.68,30.38 L100.88,30.73 L101.08,31.09 L101.26,31.46 L101.44,31.83 L101.62,32.21 L101.81,32.60 L102.00,33.00 L102.23,33.48 L102.46,33.96 L102.69,34.45 L102.91,34.96 L103.13,35.47 L103.34,36.00 L103.55,36.54 L103.75,37.10 L103.95,37.67 L104.14,38.26 L104.32,38.87 L104.50,39.50 L104.72,40.39 L104.93,41.34 L105.11,42.33 L105.28,43.35 L105.44,44.41 L105.59,45.49 L105.74,46.58 L105.90,47.68 L106.05,48.78 L106.22,49.87 L106.40,50.95 L106.60,52.00 L106.81,53.04 L107.03,54.09 L107.26,55.13 L107.49,56.17 L107.73,57.22 L107.97,58.26 L108.22,59.30 L108.47,60.34 L108.72,61.38 L108.98,62.42 L109.24,63.46 L109.50,64.50 L109.77,65.54 L110.04,66.59 L110.31,67.63 L110.59,68.67 L110.88,69.71 L111.16,70.75 L111.45,71.80 L111.74,72.84 L112.03,73.88 L112.32,74.92 L112.61,75.96 L112.90,77.00 L113.19,78.04 L113.48,79.09 L113.77,80.13 L114.06,81.17 L114.35,82.22 L114.64,83.26 L114.93,84.30 L115.23,85.35 L115.52,86.39 L115.81,87.43 L116.11,88.46 L116.40,89.50 L116.69,90.52 L116.97,91.55 L117.25,92.57 L117.53,93.59 L117.81,94.61 L118.09,95.63 L118.37,96.65 L118.66,97.67 L118.96,98.68 L119.26,99.69 L119.58,100.70 L119.90,101.70 L120.23,102.70 L120.57,103.69 L120.92,104.68 L121.27,105.67 L121.62,106.66 L121.99,107.64 L122.36,108.62 L122.73,109.60 L123.12,110.58 L123.50,111.56 L123.90,112.53 L124.30,113.50 L124.71,114.48 L125.13,115.49 L125.56,116.51 L126.00,117.53 L126.44,118.55 L126.89,119.56 L127.34,120.55 L127.80,121.52 L128.25,122.45 L128.70,123.35 L129.15,124.20 L129.60,125.00 L129.92,125.55 L130.24,126.07 L130.55,126.57 L130.86,127.06 L131.17,127.53 L131.48,127.98 L131.80,128.42 L132.12,128.85 L132.45,129.27 L132.79,129.68 L133.14,130.09 L133.50,130.50 L133.86,130.89 L134.24,131.28 L134.62,131.65 L135.01,132.02 L135.40,132.38 L135.80,132.74 L136.21,133.08 L136.62,133.42 L137.04,133.75 L137.46,134.07 L137.88,134.39 L138.30,134.70 L138.71,135.00 L139.13,135.29 L139.56,135.57 L139.99,135.84 L140.42,136.11 L140.85,136.38 L141.29,136.63 L141.73,136.88 L142.17,137.12 L142.61,137.35 L143.06,137.58 L143.50,137.80 L143.93,138.00 L144.35,138.19 L144.78,138.38 L145.21,138.56 L145.65,138.73 L146.08,138.89 L146.51,139.05 L146.95,139.21 L147.39,139.36 L147.82,139.51 L148.26,139.65 L148.70,139.80 L149.14,139.94 L149.58,140.08 L150.02,140.21 L150.46,140.34 L150.90,140.46 L151.34,140.58 L151.79,140.70 L152.23,140.82 L152.67,140.94 L153.12,141.06 L153.56,141.18 L154.00,141.30" fill="none" stroke="#0000ff" stroke-width="2.70" stroke-linejoin="round" stroke-dasharray="5.55,7.21" stroke-dashoffset="0.00" clip-path="url(#ct)"/>
<path d="M58.50,20.60 L58.70,20.61 L58.90,20.62 L59.08,20.62 L59.26,20.63 L59.45,20.64 L59.63,20.65 L59.83,20.65 L60.03,20.66 L60.24,20.67 L60.48,20.68 L60.73,20.69 L61.00,20.70 L61.69,20.72 L62.51,20.75 L63.43,20.77 L64.42,20.79 L65.49,20.82 L66.59,20.85 L67.71,20.88 L68.84,20.91 L69.96,20.95 L71.03,20.99 L72.05,21.04 L73.00,21.10 L73.73,21.15 L74.44,21.19 L75.13,21.23 L75.81,21.27 L76.48,21.31 L77.14,21.36 L77.79,21.41 L78.45,21.48 L79.10,21.56 L79.76,21.66 L80.42,21.77 L81.10,21.90 L81.84,22.07 L82.60,22.26 L83.37,22.48 L84.15,22.72 L84.93,22.97 L85.70,23.23 L86.47,23.50 L87.22,23.77 L87.96,24.04 L88.67,24.30 L89.35,24.56 L90.00,24.80 L90.47,24.98 L90.93,25.15 L91.38,25.32 L91.82,25.48 L92.24,25.65 L92.66,25.81 L93.06,25.98 L93.46,26.15 L93.85,26.33 L94.24,26.51 L94.62,26.70 L95.00,26.90 L95.34,27.09 L95.68,27.28 L96.02,27.47 L96.35,27.67 L96.68,27.87 L97.00,28.08 L97.31,28.29 L97.61,28.50 L97.90,28.72 L98.18,28.94 L98.45,29.17 L98.70,29.40 L98.90,29.60 L99.09,29.80 L99.27,30.00 L99.45,30.20 L99.61,30.41 L99.77,30.62 L99.92,30.83 L100.07,31.05 L100.21,31.28 L100.34,31.51 L100.47,31.75 L100.60,32.00 L100.74,32.29 L100.87,32.58 L100.99,32.88 L101.10,33.19 L101.21,33.50 L101.31,33.82 L101.40,34.16 L101.49,34.50 L101.57,34.85 L101.65,35.22 L101.73,35.60 L101.80,36.00 L101.89,36.63 L101.97,37.32 L102.03,38.05 L102.07,38.82 L102.11,39.62 L102.13,40.43 L102.15,41.25 L102.17,42.06 L102.20,42.85 L102.22,43.61 L102.26,44.33 L102.30,45.00 L102.34,45.46 L102.37,45.91 L102.41,46.33 L102.45,46.74 L102.49,47.14 L102.53,47.53 L102.57,47.92 L102.61,48.31 L102.65,48.71 L102.70,49.13 L102.75,49.55 L102.80,50.00 L102.87,50.57 L102.94,51.16 L103.01,51.77 L103.09,52.39 L103.17,53.02 L103.26,53.65 L103.34,54.30 L103.43,54.94 L103.52,55.59 L103.61,56.23 L103.71,56.87 L103.80,57.50 L103.90,58.13 L103.99,58.75 L104.09,59.38 L104.18,60.00 L104.28,60.62 L104.38,61.24 L104.49,61.86 L104.60,62.49 L104.71,63.13 L104.83,63.78 L104.96,64.43 L105.10,65.10 L105.28,65.89 L105.47,66.70 L105.69,67.53 L105.92,68.38 L106.15,69.23 L106.39,70.09 L106.62,70.94 L106.85,71.80 L107.07,72.64 L107.27,73.48 L107.45,74.30 L107.60,75.10 L107.71,75.78 L107.80,76.46 L107.88,77.12 L107.95,77.77 L108.00,78.41 L108.05,79.05 L108.10,79.70 L108.15,80.34 L108.20,80.99 L108.26,81.65 L108.32,82.32 L108.40,83.00 L108.50,83.77 L108.61,84.57 L108.72,85.37 L108.84,86.19 L108.96,87.02 L109.09,87.84 L109.22,88.67 L109.34,89.48 L109.46,90.29 L109.58,91.08 L109.69,91.85 L109.80,92.60 L109.88,93.21 L109.96,93.79 L110.03,94.35 L110.10,94.89 L110.17,95.43 L110.23,95.96 L110.30,96.51 L110.37,97.06 L110.45,97.63 L110.52,98.22 L110.61,98.84 L110.70,99.50 L110.85,100.54 L111.01,101.66 L111.18,102.87 L111.37,104.12 L111.56,105.42 L111.75,106.73 L111.95,108.04 L112.15,109.33 L112.35,110.58 L112.54,111.77 L112.72,112.88 L112.90,113.90 L113.01,114.53 L113.13,115.13 L113.24,115.70 L113.35,116.25 L113.46,116.79 L113.57,117.30 L113.67,117.81 L113.78,118.32 L113.89,118.83 L113.99,119.34 L114.10,119.86 L114.20,120.40 L114.30,120.95 L114.40,121.51 L114.49,122.07 L114.58,122.62 L114.67,123.18 L114.76,123.74 L114.85,124.30 L114.94,124.86 L115.04,125.42 L115.15,125.98 L115.27,126.54 L115.40,127.10 L115.54,127.68 L115.69,128.26 L115.85,128.85 L116.01,129.43 L116.18,130.02 L116.35,130.61 L116.53,131.19 L116.72,131.77 L116.91,132.34 L117.10,132.90 L117.30,133.46 L117.50,134.00 L117.69,134.49 L117.90,134.99 L118.11,135.48 L118.34,135.98 L118.56,136.47 L118.79,136.95 L119.01,137.41 L119.23,137.87 L119.44,138.31 L119.64,138.73 L119.83,139.13 L120.00,139.50 L120.10,139.73 L120.19,139.94 L120.28,140.14 L120.37,140.34 L120.45,140.53 L120.53,140.71 L120.61,140.89 L120.68,141.07 L120.76,141.25 L120.84,141.43 L120.92,141.61 L121.00,141.80" fill="none" stroke="#a52a2a" stroke-width="2.70" stroke-linejoin="round" stroke-dasharray="15.26,5.46,2.53,5.15" stroke-dashoffset="0.00" clip-path="url(#ct)"/>
<path d="M58.50,20.60 L58.70,20.61 L58.90,20.62 L59.08,20.62 L59.26,20.63 L59.45,20.64 L59.63,20.65 L59.83,20.65 L60.03,20.66 L60.24,20.67 L60.48,20.68 L60.73,20.69 L61.00,20.70 L61.69,20.72 L62.51,20.75 L63.43,20.77 L64.42,20.80 L65.48,20.82 L66.59,20.85 L67.71,20.89 L68.84,20.92 L69.96,20.96 L71.03,21.00 L72.05,21.05 L73.00,21.10 L73.73,21.14 L74.44,21.17 L75.13,21.21 L75.81,21.24 L76.48,21.27 L77.14,21.31 L77.79,21.35 L78.45,21.41 L79.10,21.48 L79.76,21.57 L80.42,21.67 L81.10,21.80 L81.84,21.96 L82.60,22.16 L83.37,22.37 L84.15,22.61 L84.93,22.86 L85.70,23.12 L86.47,23.39 L87.22,23.66 L87.96,23.93 L88.67,24.20 L89.35,24.46 L90.00,24.70 L90.47,24.87 L90.94,25.04 L91.39,25.21 L91.82,25.37 L92.25,25.53 L92.67,25.69 L93.08,25.86 L93.48,26.03 L93.87,26.20 L94.25,26.39 L94.63,26.59 L95.00,26.80 L95.33,27.00 L95.66,27.21 L95.99,27.42 L96.30,27.64 L96.62,27.86 L96.92,28.09 L97.21,28.32 L97.50,28.57 L97.77,28.81 L98.03,29.07 L98.27,29.33 L98.50,29.60 L98.70,29.85 L98.88,30.12 L99.05,30.38 L99.21,30.66 L99.36,30.94 L99.50,31.22 L99.64,31.51 L99.76,31.80 L99.88,32.10 L99.99,32.40 L100.10,32.70 L100.20,33.00 L100.30,33.31 L100.38,33.62 L100.46,33.93 L100.53,34.24 L100.59,34.56 L100.64,34.88 L100.69,35.21 L100.73,35.54 L100.77,35.89 L100.82,36.25 L100.86,36.62 L100.90,37.00 L100.96,37.57 L101.00,38.18 L101.04,38.81 L101.08,39.47 L101.10,40.15 L101.13,40.84 L101.15,41.54 L101.18,42.25 L101.20,42.95 L101.23,43.65 L101.26,44.33 L101.30,45.00 L101.34,45.63 L101.38,46.26 L101.42,46.89 L101.46,47.52 L101.50,48.14 L101.54,48.77 L101.59,49.39 L101.64,50.01 L101.70,50.63 L101.76,51.26 L101.83,51.88 L101.90,52.50 L101.98,53.13 L102.08,53.75 L102.18,54.38 L102.29,55.00 L102.40,55.63 L102.51,56.25 L102.63,56.87 L102.75,57.50 L102.87,58.12 L102.98,58.75 L103.09,59.37 L103.20,60.00 L103.30,60.62 L103.41,61.24 L103.51,61.84 L103.61,62.44 L103.70,63.05 L103.80,63.65 L103.90,64.27 L104.00,64.90 L104.10,65.54 L104.20,66.20 L104.30,66.89 L104.40,67.60 L104.54,68.62 L104.68,69.72 L104.82,70.88 L104.96,72.08 L105.10,73.31 L105.24,74.55 L105.39,75.79 L105.53,77.01 L105.67,78.20 L105.82,79.33 L105.96,80.41 L106.10,81.40 L106.20,82.05 L106.30,82.67 L106.40,83.26 L106.50,83.83 L106.60,84.39 L106.70,84.93 L106.80,85.46 L106.90,86.00 L107.00,86.53 L107.10,87.07 L107.20,87.63 L107.30,88.20 L107.40,88.81 L107.51,89.43 L107.62,90.06 L107.73,90.68 L107.83,91.31 L107.94,91.94 L108.04,92.58 L108.15,93.21 L108.24,93.84 L108.33,94.46 L108.42,95.08 L108.50,95.70 L108.57,96.28 L108.63,96.84 L108.68,97.39 L108.73,97.94 L108.77,98.48 L108.82,99.02 L108.86,99.58 L108.90,100.14 L108.94,100.72 L108.99,101.32 L109.04,101.95 L109.10,102.60 L109.19,103.57 L109.28,104.62 L109.37,105.73 L109.47,106.88 L109.57,108.06 L109.68,109.25 L109.79,110.45 L109.90,111.64 L110.02,112.80 L110.14,113.93 L110.27,115.00 L110.40,116.00 L110.51,116.73 L110.62,117.43 L110.73,118.11 L110.85,118.77 L110.97,119.41 L111.10,120.05 L111.22,120.67 L111.34,121.29 L111.46,121.91 L111.58,122.54 L111.69,123.16 L111.80,123.80 L111.90,124.42 L111.99,125.04 L112.07,125.66 L112.15,126.28 L112.23,126.90 L112.31,127.51 L112.39,128.13 L112.47,128.74 L112.56,129.36 L112.66,129.97 L112.78,130.59 L112.90,131.20 L113.04,131.84 L113.20,132.49 L113.37,133.16 L113.55,133.83 L113.74,134.50 L113.93,135.16 L114.12,135.81 L114.31,136.45 L114.50,137.06 L114.68,137.64 L114.85,138.19 L115.00,138.70 L115.09,139.01 L115.18,139.30 L115.27,139.57 L115.35,139.84 L115.44,140.09 L115.52,140.34 L115.60,140.58 L115.68,140.82 L115.76,141.06 L115.84,141.30 L115.92,141.55 L116.00,141.80" fill="none" stroke="#a0a0a0" stroke-width="2.70" stroke-linejoin="round" stroke-dasharray="2.51,5.12,15.36,5.42,2.51,5.22" stroke-dashoffset="0.00" clip-path="url(#ct)"/>
<path d="M58.50,192.40 L58.92,192.27 L59.34,192.14 L59.76,192.03 L60.19,191.92 L60.61,191.81 L61.04,191.70 L61.46,191.58 L61.88,191.44 L62.29,191.29 L62.70,191.12 L63.10,190.93 L63.50,190.70 L63.95,190.40 L64.41,190.06 L64.85,189.70 L65.29,189.30 L65.73,188.89 L66.16,188.45 L66.58,188.00 L67.00,187.54 L67.41,187.08 L67.81,186.61 L68.21,186.15 L68.60,185.70 L68.98,185.24 L69.35,184.76 L69.72,184.27 L70.08,183.76 L70.44,183.25 L70.78,182.74 L71.12,182.23 L71.46,181.74 L71.78,181.26 L72.10,180.81 L72.40,180.39 L72.70,180.00 L72.89,179.75 L73.08,179.51 L73.26,179.28 L73.43,179.06 L73.60,178.84 L73.77,178.63 L73.93,178.43 L74.10,178.24 L74.27,178.06 L74.44,177.90 L74.62,177.74 L74.80,177.60 L74.95,177.50 L75.11,177.41 L75.26,177.33 L75.42,177.26 L75.58,177.20 L75.74,177.14 L75.90,177.08 L76.06,177.03 L76.22,176.98 L76.38,176.92 L76.54,176.86 L76.70,176.80 L76.89,176.85 L77.08,176.91 L77.28,176.96 L77.47,177.02 L77.66,177.08 L77.85,177.14 L78.05,177.19 L78.24,177.25 L78.43,177.29 L78.62,177.34 L78.81,177.37 L79.00,177.40 L79.18,177.42 L79.35,177.44 L79.52,177.45 L79.69,177.46 L79.86,177.47 L80.04,177.47 L80.21,177.47 L80.38,177.47 L80.56,177.46 L80.73,177.44 L80.91,177.42 L81.10,177.40 L81.33,177.37 L81.56,177.32 L81.79,177.28 L82.03,177.22 L82.27,177.16 L82.52,177.09 L82.76,177.02 L83.01,176.94 L83.26,176.86 L83.50,176.78 L83.75,176.69 L84.00,176.60 L84.27,176.49 L84.54,176.37 L84.81,176.25 L85.08,176.12 L85.35,175.98 L85.62,175.84 L85.89,175.69 L86.17,175.55 L86.46,175.41 L86.76,175.27 L87.08,175.13 L87.40,175.00 L87.86,174.83 L88.35,174.65 L88.88,174.47 L89.42,174.29 L89.98,174.11 L90.54,173.94 L91.11,173.77 L91.67,173.61 L92.21,173.46 L92.74,173.32 L93.24,173.20 L93.70,173.10 L94.01,173.04 L94.30,172.98 L94.59,172.94 L94.86,172.90 L95.13,172.86 L95.39,172.83 L95.65,172.81 L95.91,172.78 L96.17,172.76 L96.44,172.74 L96.72,172.72 L97.00,172.70 L97.32,172.68 L97.65,172.65 L97.98,172.62 L98.32,172.60 L98.66,172.57 L99.00,172.55 L99.34,172.54 L99.68,172.53 L100.01,172.53 L100.35,172.54 L100.68,172.57 L101.00,172.60 L101.30,172.64 L101.60,172.70 L101.89,172.76 L102.18,172.83 L102.47,172.90 L102.76,172.99 L103.05,173.08 L103.33,173.17 L103.62,173.27 L103.91,173.38 L104.20,173.49 L104.50,173.60 L104.83,173.73 L105.15,173.86 L105.46,174.00 L105.77,174.15 L106.09,174.30 L106.40,174.46 L106.73,174.62 L107.07,174.80 L107.42,174.98 L107.79,175.18 L108.18,175.38 L108.60,175.60 L109.41,176.03 L110.29,176.50 L111.25,177.03 L112.27,177.59 L113.33,178.18 L114.42,178.79 L115.54,179.42 L116.68,180.06 L117.81,180.69 L118.93,181.31 L120.03,181.92 L121.10,182.50 L122.15,183.07 L123.22,183.63 L124.29,184.19 L125.37,184.75 L126.45,185.31 L127.53,185.87 L128.60,186.42 L129.65,186.98 L130.70,187.54 L131.72,188.09 L132.72,188.65 L133.70,189.20 L134.53,189.68 L135.34,190.17 L136.14,190.64 L136.91,191.12 L137.68,191.60 L138.44,192.08 L139.20,192.55 L139.95,193.03 L140.70,193.52 L141.46,194.01 L142.22,194.50 L143.00,195.00 L143.81,195.53 L144.64,196.08 L145.47,196.64 L146.30,197.21 L147.13,197.78 L147.97,198.35 L148.80,198.92 L149.62,199.47 L150.43,200.01 L151.24,200.53 L152.03,201.03 L152.80,201.50 L153.43,201.87 L154.06,202.23 L154.67,202.57 L155.29,202.90 L155.89,203.22 L156.49,203.53 L157.09,203.83 L157.68,204.13 L158.26,204.43 L158.84,204.72 L159.42,205.01 L160.00,205.30 L160.52,205.56 L161.03,205.82 L161.53,206.07 L162.03,206.31 L162.53,206.56 L163.03,206.80 L163.52,207.04 L164.01,207.27 L164.51,207.51 L165.00,207.74 L165.50,207.97 L166.00,208.20 L166.50,208.43 L166.99,208.65 L167.48,208.87 L167.97,209.09 L168.46,209.31 L168.96,209.52 L169.45,209.74 L169.95,209.95 L170.45,210.16 L170.96,210.38 L171.48,210.59 L172.00,210.80 L172.58,211.03 L173.16,211.27 L173.74,211.50 L174.33,211.73 L174.93,211.97 L175.53,212.20 L176.14,212.43 L176.75,212.65 L177.38,212.87 L178.01,213.09 L178.65,213.30 L179.30,213.50 L180.05,213.72 L180.81,213.94 L181.60,214.15 L182.39,214.36 L183.19,214.56 L184.00,214.75 L184.82,214.94 L185.64,215.13 L186.46,215.31 L187.28,215.48 L188.09,215.64 L188.90,215.80 L189.70,215.95 L190.49,216.09 L191.29,216.23 L192.09,216.36 L192.89,216.49 L193.69,216.60 L194.49,216.72 L195.29,216.83 L196.09,216.93 L196.89,217.02 L197.70,217.11 L198.50,217.20 L199.31,217.28 L200.11,217.35 L200.92,217.40 L201.73,217.46 L202.54,217.50 L203.35,217.54 L204.16,217.58 L204.97,217.62 L205.78,217.66 L206.59,217.70 L207.39,217.75 L208.20,217.80 L209.00,217.85 L209.80,217.91 L210.60,217.96 L211.39,218.02 L212.19,218.07 L212.99,218.13 L213.78,218.18 L214.58,218.24 L215.38,218.30 L216.18,218.37 L216.99,218.43 L217.80,218.50 L218.63,218.57 L219.45,218.65 L220.25,218.72 L221.06,218.80 L221.87,218.87 L222.68,218.95 L223.51,219.04 L224.35,219.12 L225.22,219.21 L226.11,219.30 L227.04,219.40 L228.00,219.50 L229.40,219.64 L230.87,219.79 L232.40,219.94 L233.99,220.10 L235.62,220.27 L237.28,220.44 L238.96,220.61 L240.65,220.80 L242.34,220.99 L244.02,221.18 L245.68,221.39 L247.30,221.60 L248.90,221.83 L250.51,222.07 L252.11,222.32 L253.70,222.59 L255.30,222.86 L256.90,223.14 L258.50,223.41 L260.10,223.69 L261.70,223.96 L263.30,224.22 L264.90,224.47 L266.50,224.70 L268.11,224.92 L269.75,225.13 L271.39,225.33 L273.04,225.52 L274.68,225.71 L276.33,225.90 L277.96,226.08 L279.58,226.26 L281.18,226.44 L282.75,226.62 L284.30,226.81 L285.80,227.00 L287.06,227.17 L288.30,227.34 L289.51,227.51 L290.71,227.69 L291.89,227.86 L293.06,228.03 L294.23,228.21 L295.38,228.37 L296.53,228.54 L297.68,228.70 L298.84,228.85 L300.00,229.00 L301.11,229.14 L302.21,229.27 L303.30,229.39 L304.37,229.51 L305.45,229.63 L306.52,229.75 L307.60,229.86 L308.70,229.97 L309.81,230.08 L310.95,230.18 L312.11,230.29 L313.30,230.40 L314.78,230.53 L316.29,230.65 L317.85,230.77 L319.44,230.89 L321.05,231.00 L322.68,231.11 L324.32,231.23 L325.97,231.34 L327.61,231.45 L329.26,231.56 L330.89,231.68 L332.50,231.80 L334.14,231.92 L335.82,232.05 L337.54,232.17 L339.28,232.30 L341.01,232.43 L342.73,232.56 L344.42,232.69 L346.06,232.81 L347.63,232.94 L349.12,233.06 L350.52,233.18 L351.80,233.30 L352.52,233.37 L353.20,233.44 L353.85,233.51 L354.46,233.57 L355.05,233.64 L355.62,233.71 L356.18,233.77 L356.73,233.84 L357.28,233.90 L357.84,233.97 L358.41,234.03 L359.00,234.10" fill="none" stroke="#ff0000" stroke-width="2.70" stroke-linejoin="round" clip-path="url(#cb)"/>
<path d="M58.50,183.50 L58.91,183.33 L59.32,183.17 L59.73,183.02 L60.13,182.87 L60.54,182.72 L60.95,182.56 L61.36,182.40 L61.77,182.24 L62.19,182.05 L62.62,181.86 L63.05,181.64 L63.50,181.40 L64.13,181.02 L64.80,180.58 L65.49,180.08 L66.19,179.55 L66.91,179.00 L67.63,178.43 L68.35,177.87 L69.07,177.33 L69.76,176.82 L70.44,176.35 L71.09,175.94 L71.70,175.60 L72.09,175.41 L72.47,175.24 L72.83,175.10 L73.19,174.97 L73.54,174.85 L73.88,174.74 L74.23,174.64 L74.57,174.55 L74.92,174.47 L75.27,174.38 L75.63,174.29 L76.00,174.20 L76.41,174.11 L76.82,174.03 L77.24,173.96 L77.66,173.90 L78.08,173.84 L78.51,173.79 L78.94,173.73 L79.37,173.67 L79.81,173.60 L80.24,173.51 L80.67,173.42 L81.10,173.30 L81.57,173.15 L82.05,172.97 L82.53,172.78 L83.02,172.57 L83.50,172.34 L83.99,172.12 L84.47,171.89 L84.95,171.67 L85.42,171.45 L85.89,171.25 L86.35,171.06 L86.80,170.90 L87.17,170.78 L87.52,170.66 L87.87,170.55 L88.22,170.45 L88.56,170.35 L88.90,170.26 L89.24,170.17 L89.58,170.09 L89.93,170.01 L90.28,169.94 L90.63,169.87 L91.00,169.80 L91.41,169.73 L91.83,169.65 L92.26,169.57 L92.69,169.50 L93.12,169.43 L93.56,169.36 L94.00,169.31 L94.44,169.27 L94.88,169.25 L95.33,169.25 L95.76,169.26 L96.20,169.30 L96.66,169.37 L97.14,169.46 L97.61,169.58 L98.09,169.71 L98.58,169.87 L99.05,170.04 L99.53,170.22 L99.99,170.40 L100.44,170.60 L100.88,170.80 L101.30,171.00 L101.70,171.20 L102.01,171.37 L102.31,171.54 L102.60,171.72 L102.87,171.90 L103.14,172.09 L103.40,172.28 L103.66,172.47 L103.92,172.67 L104.18,172.87 L104.44,173.08 L104.72,173.29 L105.00,173.50 L105.34,173.75 L105.68,174.00 L106.03,174.26 L106.38,174.53 L106.74,174.80 L107.10,175.08 L107.46,175.36 L107.81,175.64 L108.17,175.92 L108.52,176.21 L108.86,176.51 L109.20,176.80 L109.53,177.09 L109.85,177.38 L110.17,177.67 L110.48,177.96 L110.78,178.26 L111.09,178.56 L111.40,178.87 L111.71,179.18 L112.02,179.51 L112.34,179.86 L112.66,180.22 L113.00,180.60 L113.48,181.17 L113.99,181.80 L114.51,182.47 L115.04,183.17 L115.58,183.90 L116.12,184.64 L116.66,185.38 L117.19,186.12 L117.72,186.84 L118.23,187.54 L118.73,188.19 L119.20,188.80 L119.54,189.23 L119.87,189.63 L120.19,190.02 L120.50,190.39 L120.81,190.75 L121.11,191.11 L121.42,191.46 L121.72,191.82 L122.03,192.19 L122.34,192.58 L122.67,192.98 L123.00,193.40 L123.44,193.97 L123.90,194.58 L124.37,195.21 L124.85,195.87 L125.33,196.54 L125.82,197.22 L126.31,197.90 L126.79,198.56 L127.27,199.22 L127.73,199.84 L128.17,200.44 L128.60,201.00 L128.90,201.40 L129.19,201.78 L129.46,202.14 L129.72,202.50 L129.97,202.84 L130.23,203.18 L130.48,203.51 L130.75,203.84 L131.03,204.18 L131.33,204.51 L131.65,204.85 L132.00,205.20 L132.50,205.67 L133.04,206.15 L133.61,206.64 L134.22,207.14 L134.85,207.64 L135.49,208.13 L136.15,208.62 L136.80,209.10 L137.45,209.56 L138.09,210.00 L138.71,210.41 L139.30,210.80 L139.76,211.09 L140.21,211.37 L140.65,211.63 L141.08,211.88 L141.51,212.12 L141.93,212.35 L142.37,212.57 L142.80,212.79 L143.25,213.01 L143.72,213.24 L144.20,213.46 L144.70,213.70 L145.37,214.01 L146.07,214.33 L146.81,214.65 L147.57,214.98 L148.35,215.31 L149.13,215.63 L149.93,215.95 L150.71,216.26 L151.49,216.55 L152.25,216.82 L152.99,217.07 L153.70,217.30 L154.26,217.47 L154.80,217.61 L155.33,217.75 L155.85,217.87 L156.36,217.99 L156.87,218.09 L157.38,218.20 L157.89,218.29 L158.40,218.39 L158.92,218.49 L159.45,218.59 L160.00,218.70 L160.62,218.82 L161.24,218.95 L161.88,219.07 L162.52,219.19 L163.17,219.32 L163.83,219.44 L164.48,219.56 L165.14,219.67 L165.79,219.79 L166.43,219.89 L167.07,220.00 L167.70,220.10 L168.28,220.19 L168.84,220.27 L169.39,220.34 L169.94,220.41 L170.49,220.47 L171.04,220.54 L171.59,220.60 L172.14,220.67 L172.71,220.74 L173.29,220.82 L173.88,220.90 L174.50,221.00 L175.29,221.13 L176.10,221.27 L176.93,221.42 L177.77,221.57 L178.63,221.73 L179.51,221.90 L180.39,222.07 L181.29,222.25 L182.21,222.43 L183.13,222.62 L184.06,222.81 L185.00,223.00 L186.13,223.24 L187.28,223.48 L188.45,223.74 L189.65,224.01 L190.85,224.29 L192.08,224.57 L193.31,224.85 L194.55,225.13 L195.79,225.40 L197.03,225.68 L198.27,225.94 L199.50,226.20 L200.77,226.46 L202.04,226.71 L203.32,226.96 L204.61,227.21 L205.90,227.45 L207.20,227.69 L208.49,227.93 L209.78,228.17 L211.07,228.41 L212.35,228.64 L213.63,228.87 L214.90,229.10 L216.12,229.32 L217.33,229.53 L218.54,229.74 L219.74,229.95 L220.94,230.16 L222.13,230.36 L223.33,230.57 L224.53,230.77 L225.74,230.98 L226.95,231.18 L228.17,231.39 L229.40,231.60 L230.70,231.82 L232.02,232.05 L233.34,232.29 L234.67,232.52 L236.01,232.76 L237.35,232.99 L238.69,233.22 L240.02,233.45 L241.36,233.67 L242.68,233.89 L244.00,234.10 L245.30,234.30 L246.53,234.48 L247.74,234.66 L248.95,234.83 L250.15,234.99 L251.34,235.15 L252.53,235.30 L253.73,235.46 L254.92,235.61 L256.13,235.75 L257.34,235.90 L258.56,236.05 L259.80,236.20 L261.13,236.36 L262.48,236.52 L263.84,236.68 L265.21,236.83 L266.59,236.99 L267.97,237.14 L269.35,237.29 L270.73,237.44 L272.11,237.59 L273.48,237.73 L274.85,237.87 L276.20,238.00 L277.51,238.12 L278.85,238.24 L280.19,238.35 L281.54,238.46 L282.89,238.57 L284.22,238.67 L285.54,238.78 L286.83,238.88 L288.09,238.98 L289.31,239.08 L290.48,239.19 L291.60,239.30 L292.38,239.38 L293.12,239.47 L293.83,239.55 L294.51,239.63 L295.17,239.72 L295.82,239.80 L296.47,239.89 L297.13,239.97 L297.80,240.05 L298.50,240.14 L299.23,240.22 L300.00,240.30 L301.06,240.41 L302.17,240.51 L303.32,240.62 L304.51,240.73 L305.72,240.84 L306.96,240.94 L308.20,241.05 L309.43,241.15 L310.66,241.24 L311.87,241.33 L313.05,241.42 L314.20,241.50 L315.20,241.57 L316.17,241.63 L317.11,241.68 L318.04,241.73 L318.97,241.78 L319.89,241.83 L320.82,241.87 L321.76,241.92 L322.72,241.96 L323.71,242.00 L324.74,242.05 L325.80,242.10 L327.24,242.17 L328.76,242.23 L330.33,242.30 L331.96,242.37 L333.61,242.44 L335.29,242.50 L336.97,242.57 L338.65,242.64 L340.30,242.71 L341.92,242.77 L343.49,242.84 L345.00,242.90 L346.24,242.95 L347.46,243.00 L348.66,243.06 L349.83,243.11 L350.99,243.16 L352.14,243.20 L353.28,243.25 L354.42,243.30 L355.55,243.35 L356.69,243.40 L357.84,243.45 L359.00,243.50" fill="none" stroke="#228b22" stroke-width="2.70" stroke-linejoin="round" stroke-dasharray="10.12,5.31" stroke-dashoffset="0.00" clip-path="url(#cb)"/>
<path d="M58.50,176.50 L58.91,176.33 L59.32,176.17 L59.73,176.00 L60.14,175.84 L60.54,175.67 L60.95,175.51 L61.36,175.34 L61.77,175.18 L62.19,175.01 L62.62,174.84 L63.05,174.67 L63.50,174.50 L64.04,174.30 L64.60,174.09 L65.17,173.88 L65.75,173.66 L66.35,173.45 L66.94,173.23 L67.54,173.02 L68.13,172.81 L68.72,172.60 L69.30,172.39 L69.86,172.19 L70.40,172.00 L70.85,171.83 L71.30,171.66 L71.75,171.49 L72.19,171.32 L72.62,171.15 L73.05,170.99 L73.47,170.83 L73.89,170.68 L74.30,170.54 L74.71,170.41 L75.11,170.30 L75.50,170.20 L75.81,170.13 L76.11,170.07 L76.41,170.01 L76.70,169.95 L76.99,169.91 L77.27,169.87 L77.56,169.83 L77.84,169.81 L78.12,169.79 L78.41,169.79 L78.70,169.79 L79.00,169.80 L79.33,169.82 L79.65,169.86 L79.98,169.90 L80.32,169.95 L80.65,170.01 L80.99,170.08 L81.32,170.16 L81.66,170.25 L82.00,170.35 L82.33,170.46 L82.67,170.58 L83.00,170.70 L83.37,170.85 L83.74,171.00 L84.11,171.17 L84.48,171.34 L84.85,171.53 L85.22,171.73 L85.59,171.94 L85.96,172.16 L86.32,172.40 L86.68,172.65 L87.04,172.92 L87.40,173.20 L87.83,173.58 L88.26,174.00 L88.69,174.45 L89.12,174.93 L89.54,175.43 L89.96,175.95 L90.38,176.47 L90.79,176.99 L91.20,177.50 L91.60,177.99 L92.00,178.46 L92.40,178.90 L92.73,179.25 L93.06,179.59 L93.39,179.92 L93.72,180.24 L94.05,180.55 L94.37,180.87 L94.69,181.17 L95.00,181.48 L95.31,181.78 L95.61,182.08 L95.91,182.39 L96.20,182.70 L96.46,182.97 L96.71,183.24 L96.96,183.50 L97.21,183.76 L97.46,184.01 L97.70,184.27 L97.93,184.53 L98.16,184.80 L98.38,185.08 L98.60,185.37 L98.80,185.68 L99.00,186.00 L99.22,186.40 L99.42,186.82 L99.61,187.26 L99.78,187.71 L99.95,188.18 L100.11,188.65 L100.26,189.14 L100.41,189.64 L100.55,190.15 L100.70,190.66 L100.85,191.18 L101.00,191.70 L101.18,192.34 L101.37,193.02 L101.55,193.72 L101.73,194.45 L101.91,195.18 L102.09,195.92 L102.26,196.65 L102.42,197.38 L102.58,198.08 L102.73,198.76 L102.87,199.40 L103.00,200.00 L103.08,200.40 L103.15,200.79 L103.20,201.16 L103.25,201.52 L103.30,201.87 L103.35,202.21 L103.40,202.55 L103.45,202.88 L103.52,203.21 L103.59,203.54 L103.69,203.87 L103.80,204.20 L103.93,204.53 L104.06,204.86 L104.21,205.19 L104.36,205.51 L104.52,205.83 L104.69,206.15 L104.87,206.47 L105.07,206.78 L105.28,207.09 L105.50,207.39 L105.74,207.70 L106.00,208.00 L106.36,208.38 L106.75,208.76 L107.18,209.13 L107.63,209.49 L108.11,209.86 L108.60,210.22 L109.11,210.57 L109.62,210.92 L110.13,211.27 L110.63,211.62 L111.12,211.96 L111.60,212.30 L112.05,212.63 L112.49,212.95 L112.94,213.27 L113.38,213.59 L113.83,213.91 L114.27,214.22 L114.72,214.53 L115.17,214.83 L115.62,215.13 L116.08,215.43 L116.54,215.72 L117.00,216.00 L117.46,216.27 L117.92,216.54 L118.37,216.79 L118.82,217.04 L119.27,217.28 L119.73,217.52 L120.20,217.76 L120.68,218.00 L121.18,218.25 L121.70,218.49 L122.24,218.74 L122.80,219.00 L123.64,219.37 L124.53,219.76 L125.46,220.15 L126.44,220.55 L127.44,220.96 L128.47,221.37 L129.51,221.77 L130.56,222.17 L131.62,222.57 L132.66,222.96 L133.69,223.34 L134.70,223.70 L135.68,224.05 L136.66,224.40 L137.64,224.74 L138.61,225.08 L139.59,225.41 L140.57,225.73 L141.55,226.05 L142.54,226.36 L143.52,226.66 L144.51,226.95 L145.50,227.23 L146.50,227.50 L147.50,227.76 L148.51,228.00 L149.52,228.22 L150.53,228.44 L151.54,228.65 L152.55,228.85 L153.57,229.04 L154.59,229.23 L155.62,229.42 L156.64,229.61 L157.67,229.80 L158.70,230.00 L159.76,230.20 L160.83,230.40 L161.90,230.60 L162.98,230.80 L164.06,231.00 L165.14,231.19 L166.22,231.38 L167.30,231.57 L168.38,231.76 L169.46,231.94 L170.53,232.12 L171.60,232.30 L172.65,232.47 L173.69,232.64 L174.74,232.81 L175.78,232.97 L176.82,233.13 L177.86,233.29 L178.90,233.45 L179.94,233.60 L180.98,233.75 L182.02,233.90 L183.06,234.05 L184.10,234.20 L185.14,234.35 L186.18,234.49 L187.21,234.64 L188.25,234.78 L189.28,234.92 L190.32,235.06 L191.35,235.19 L192.39,235.32 L193.44,235.45 L194.49,235.57 L195.54,235.69 L196.60,235.80 L197.71,235.91 L198.82,236.01 L199.95,236.10 L201.08,236.19 L202.21,236.27 L203.35,236.35 L204.48,236.43 L205.62,236.50 L206.75,236.58 L207.87,236.65 L208.99,236.72 L210.10,236.80 L211.16,236.87 L212.21,236.94 L213.26,237.01 L214.30,237.07 L215.34,237.14 L216.38,237.20 L217.41,237.27 L218.45,237.33 L219.48,237.40 L220.52,237.46 L221.56,237.53 L222.60,237.60 L223.65,237.67 L224.70,237.74 L225.74,237.82 L226.79,237.89 L227.84,237.96 L228.88,238.04 L229.93,238.11 L230.98,238.19 L232.04,238.27 L233.09,238.34 L234.14,238.42 L235.20,238.50 L236.27,238.58 L237.35,238.67 L238.42,238.75 L239.50,238.84 L240.58,238.93 L241.66,239.02 L242.74,239.11 L243.82,239.19 L244.91,239.28 L246.00,239.36 L247.10,239.43 L248.20,239.50 L249.35,239.57 L250.50,239.62 L251.65,239.68 L252.81,239.73 L253.97,239.78 L255.14,239.82 L256.31,239.87 L257.48,239.91 L258.66,239.95 L259.84,240.00 L261.02,240.05 L262.20,240.10 L263.43,240.16 L264.67,240.22 L265.92,240.28 L267.17,240.34 L268.43,240.40 L269.68,240.46 L270.94,240.52 L272.19,240.58 L273.44,240.64 L274.67,240.70 L275.89,240.75 L277.10,240.80 L278.22,240.84 L279.32,240.88 L280.42,240.91 L281.51,240.94 L282.59,240.97 L283.67,241.00 L284.75,241.03 L285.82,241.06 L286.89,241.09 L287.96,241.12 L289.03,241.16 L290.10,241.20 L291.15,241.24 L292.19,241.29 L293.24,241.34 L294.28,241.39 L295.31,241.44 L296.35,241.49 L297.39,241.54 L298.42,241.59 L299.46,241.65 L300.51,241.70 L301.55,241.75 L302.60,241.80 L303.68,241.85 L304.75,241.90 L305.84,241.96 L306.92,242.01 L308.01,242.06 L309.10,242.11 L310.18,242.16 L311.27,242.21 L312.36,242.26 L313.44,242.31 L314.52,242.36 L315.60,242.40 L316.66,242.44 L317.71,242.48 L318.75,242.51 L319.80,242.54 L320.84,242.57 L321.89,242.60 L322.93,242.63 L323.98,242.66 L325.03,242.69 L326.08,242.73 L327.14,242.76 L328.20,242.80 L329.30,242.84 L330.39,242.89 L331.48,242.94 L332.57,242.99 L333.67,243.04 L334.76,243.10 L335.87,243.15 L336.99,243.20 L338.12,243.26 L339.26,243.31 L340.42,243.35 L341.60,243.40 L342.97,243.45 L344.37,243.49 L345.79,243.54 L347.23,243.58 L348.69,243.62 L350.16,243.66 L351.63,243.70 L353.12,243.74 L354.60,243.78 L356.07,243.82 L357.54,243.86 L359.00,243.90" fill="none" stroke="#0000ff" stroke-width="2.70" stroke-linejoin="round" stroke-dasharray="5.53,7.18" stroke-dashoffset="0.00" clip-path="url(#cb)"/>
<path d="M58.50,179.10 L59.12,179.12 L59.75,179.15 L60.37,179.17 L61.00,179.19 L61.62,179.22 L62.25,179.24 L62.87,179.26 L63.50,179.29 L64.12,179.31 L64.75,179.34 L65.37,179.37 L66.00,179.40 L66.63,179.43 L67.27,179.45 L67.92,179.47 L68.56,179.48 L69.21,179.50 L69.85,179.52 L70.49,179.55 L71.13,179.59 L71.76,179.64 L72.38,179.71 L73.00,179.79 L73.60,179.90 L74.15,180.02 L74.70,180.15 L75.24,180.30 L75.78,180.45 L76.31,180.62 L76.83,180.80 L77.35,180.99 L77.87,181.18 L78.38,181.38 L78.89,181.59 L79.40,181.79 L79.90,182.00 L80.39,182.21 L80.87,182.42 L81.36,182.63 L81.84,182.85 L82.31,183.08 L82.78,183.31 L83.25,183.55 L83.71,183.79 L84.17,184.04 L84.62,184.29 L85.06,184.54 L85.50,184.80 L85.90,185.04 L86.29,185.28 L86.67,185.52 L87.04,185.77 L87.40,186.01 L87.77,186.27 L88.13,186.52 L88.49,186.79 L88.86,187.07 L89.23,187.37 L89.61,187.68 L90.00,188.00 L90.53,188.45 L91.08,188.92 L91.65,189.42 L92.24,189.94 L92.83,190.48 L93.42,191.03 L94.00,191.60 L94.56,192.17 L95.10,192.75 L95.61,193.34 L96.08,193.92 L96.50,194.50 L96.83,195.00 L97.14,195.51 L97.43,196.02 L97.71,196.54 L97.96,197.06 L98.20,197.58 L98.42,198.11 L98.62,198.64 L98.81,199.18 L98.99,199.71 L99.15,200.26 L99.30,200.80 L99.43,201.34 L99.54,201.89 L99.62,202.45 L99.69,203.01 L99.74,203.58 L99.78,204.14 L99.82,204.71 L99.85,205.28 L99.88,205.84 L99.91,206.40 L99.95,206.95 L100.00,207.50 L100.05,208.01 L100.10,208.52 L100.15,209.02 L100.20,209.52 L100.25,210.02 L100.30,210.52 L100.35,211.02 L100.40,211.51 L100.45,212.01 L100.50,212.50 L100.55,213.00 L100.60,213.50 L102.60,209.30 L102.76,209.67 L102.93,210.05 L103.08,210.42 L103.24,210.79 L103.40,211.16 L103.56,211.53 L103.72,211.91 L103.88,212.28 L104.05,212.66 L104.23,213.04 L104.41,213.42 L104.60,213.80 L104.82,214.23 L105.05,214.66 L105.29,215.10 L105.53,215.54 L105.78,215.98 L106.03,216.42 L106.29,216.86 L106.55,217.31 L106.81,217.76 L107.08,218.20 L107.34,218.65 L107.60,219.10 L107.87,219.58 L108.12,220.07 L108.37,220.58 L108.62,221.10 L108.86,221.61 L109.12,222.13 L109.38,222.63 L109.66,223.12 L109.96,223.58 L110.28,224.02 L110.62,224.43 L111.00,224.80 L111.41,225.13 L111.85,225.43 L112.31,225.69 L112.79,225.94 L113.30,226.16 L113.82,226.36 L114.34,226.56 L114.88,226.74 L115.41,226.93 L115.95,227.11 L116.48,227.30 L117.00,227.50 L117.53,227.70 L118.06,227.90 L118.60,228.08 L119.14,228.26 L119.69,228.44 L120.23,228.61 L120.78,228.79 L121.33,228.97 L121.87,229.16 L122.42,229.36 L122.96,229.57 L123.50,229.80 L124.06,230.06 L124.62,230.35 L125.18,230.65 L125.74,230.97 L126.30,231.29 L126.85,231.62 L127.41,231.95 L127.97,232.27 L128.52,232.58 L129.08,232.87 L129.64,233.15 L130.20,233.40 L130.71,233.61 L131.22,233.81 L131.71,233.99 L132.20,234.16 L132.68,234.32 L133.18,234.48 L133.68,234.63 L134.20,234.78 L134.73,234.93 L135.29,235.08 L135.88,235.24 L136.50,235.40 L137.53,235.66 L138.70,235.94 L139.97,236.23 L141.32,236.52 L142.71,236.82 L144.10,237.11 L145.48,237.39 L146.81,237.66 L148.06,237.91 L149.19,238.14 L150.18,238.34 L151.00,238.50 L151.29,238.56 L151.55,238.61 L151.80,238.66 L152.02,238.70 L152.23,238.74 L152.43,238.78 L152.62,238.82 L152.81,238.85 L153.00,238.89 L153.19,238.92 L153.39,238.96 L153.60,239.00" fill="none" stroke="#a52a2a" stroke-width="2.70" stroke-linejoin="round" stroke-dasharray="15.07,5.39,2.50,5.09" stroke-dashoffset="0.00" clip-path="url(#cb)"/>
<path d="M153.60,239.00 L154.13,239.10 L154.65,239.20 L155.16,239.29 L155.67,239.39 L156.19,239.48 L156.70,239.58 L157.22,239.68 L157.75,239.78 L158.29,239.88 L158.84,239.98 L159.41,240.09 L160.00,240.20 L160.80,240.35 L161.64,240.51 L162.52,240.68 L163.43,240.86 L164.35,241.04 L165.28,241.22 L166.22,241.40 L167.15,241.58 L168.06,241.75 L168.94,241.91 L169.79,242.06 L170.60,242.20 L171.21,242.30 L171.80,242.40 L172.38,242.48 L172.94,242.57 L173.50,242.65 L174.04,242.73 L174.58,242.80 L175.12,242.88 L175.66,242.96 L176.20,243.03 L176.75,243.11 L177.30,243.20 L177.86,243.29 L178.43,243.37 L179.01,243.46 L179.58,243.55 L180.16,243.64 L180.73,243.73 L181.30,243.82 L181.86,243.91 L182.42,244.01 L182.96,244.10 L183.49,244.20 L184.00,244.30 L184.41,244.39 L184.82,244.47 L185.21,244.56 L185.60,244.65 L185.98,244.75 L186.36,244.84 L186.73,244.93 L187.10,245.03 L187.47,245.12 L187.84,245.21 L188.22,245.31 L188.60,245.40" fill="none" stroke="#a52a2a" stroke-width="2.70" stroke-linejoin="round" stroke-dasharray="15.10,5.40,2.50,5.10" stroke-dashoffset="25.96" clip-path="url(#cb)"/>
<path d="M58.50,191.80 L59.13,191.87 L59.75,191.93 L60.38,192.00 L61.01,192.07 L61.64,192.14 L62.27,192.20 L62.89,192.27 L63.52,192.34 L64.14,192.41 L64.76,192.47 L65.38,192.54 L66.00,192.60 L66.59,192.66 L67.18,192.71 L67.76,192.77 L68.33,192.82 L68.91,192.87 L69.49,192.92 L70.06,192.97 L70.64,193.03 L71.22,193.09 L71.81,193.15 L72.40,193.22 L73.00,193.30 L73.66,193.39 L74.33,193.48 L75.01,193.58 L75.70,193.68 L76.39,193.79 L77.09,193.90 L77.78,194.01 L78.46,194.14 L79.14,194.26 L79.81,194.40 L80.46,194.55 L81.10,194.70 L81.66,194.84 L82.20,194.99 L82.74,195.14 L83.27,195.29 L83.80,195.46 L84.31,195.62 L84.83,195.80 L85.34,195.98 L85.85,196.17 L86.37,196.37 L86.88,196.58 L87.40,196.80 L87.96,197.04 L88.54,197.29 L89.13,197.54 L89.73,197.81 L90.32,198.08 L90.91,198.36 L91.48,198.66 L92.04,198.97 L92.58,199.30 L93.09,199.64 L93.56,200.01 L94.00,200.40 L94.37,200.78 L94.71,201.17 L95.02,201.58 L95.32,202.01 L95.60,202.45 L95.86,202.90 L96.11,203.36 L96.34,203.84 L96.57,204.32 L96.78,204.81 L96.99,205.30 L97.20,205.80 L97.41,206.35 L97.61,206.92 L97.78,207.50 L97.94,208.10 L98.09,208.71 L98.23,209.32 L98.37,209.93 L98.49,210.55 L98.62,211.17 L98.74,211.79 L98.87,212.40 L99.00,213.00 L99.13,213.59 L99.25,214.17 L99.38,214.75 L99.49,215.34 L99.61,215.92 L99.72,216.50 L99.83,217.09 L99.95,217.67 L100.06,218.25 L100.17,218.83 L100.28,219.42 L100.40,220.00 L100.51,219.62 L100.62,219.23 L100.73,218.83 L100.83,218.43 L100.94,218.03 L101.04,217.63 L101.15,217.24 L101.27,216.86 L101.39,216.49 L101.51,216.14 L101.65,215.81 L101.80,215.50 L101.92,215.28 L102.05,215.07 L102.19,214.87 L102.33,214.69 L102.47,214.51 L102.62,214.33 L102.76,214.16 L102.91,213.99 L103.06,213.82 L103.21,213.65 L103.36,213.48 L103.50,213.30 L103.71,213.94 L103.92,214.59 L104.12,215.23 L104.33,215.88 L104.54,216.53 L104.74,217.18 L104.95,217.82 L105.16,218.46 L105.37,219.10 L105.58,219.74 L105.79,220.37 L106.00,221.00 L106.19,221.61 L106.37,222.23 L106.53,222.87 L106.69,223.50 L106.85,224.14 L107.02,224.77 L107.20,225.38 L107.39,225.97 L107.62,226.53 L107.87,227.06 L108.16,227.55 L108.50,228.00 L108.85,228.37 L109.23,228.70 L109.64,229.00 L110.08,229.28 L110.54,229.53 L111.02,229.76 L111.51,229.98 L112.01,230.19 L112.51,230.39 L113.01,230.59 L113.51,230.79 L114.00,231.00 L114.50,231.21 L115.01,231.40 L115.53,231.58 L116.06,231.75 L116.58,231.92 L117.12,232.08 L117.65,232.24 L118.18,232.40 L118.72,232.56 L119.25,232.73 L119.78,232.91 L120.30,233.10 L120.83,233.31 L121.35,233.52 L121.86,233.75 L122.38,233.98 L122.89,234.21 L123.40,234.45 L123.92,234.69 L124.44,234.92 L124.97,235.15 L125.50,235.38 L126.05,235.59 L126.60,235.80 L127.22,236.01 L127.85,236.22 L128.50,236.42 L129.15,236.61 L129.82,236.80 L130.48,236.99 L131.15,237.17 L131.81,237.35 L132.48,237.53 L133.13,237.72 L133.77,237.91 L134.40,238.10 L134.97,238.28 L135.52,238.47 L136.06,238.66 L136.60,238.85 L137.13,239.04 L137.67,239.23 L138.20,239.42 L138.74,239.60 L139.28,239.78 L139.84,239.96 L140.41,240.13 L141.00,240.30 L141.70,240.48 L142.42,240.66 L143.16,240.83 L143.91,241.00 L144.67,241.16 L145.44,241.32 L146.21,241.47 L146.98,241.62 L147.75,241.77 L148.51,241.92 L149.26,242.06 L150.00,242.20 L150.68,242.33 L151.36,242.45 L152.03,242.58 L152.70,242.69 L153.36,242.81 L154.03,242.92 L154.69,243.04 L155.35,243.15 L156.01,243.26 L156.67,243.37 L157.33,243.48 L158.00,243.60 L158.67,243.72 L159.33,243.83 L160.00,243.95 L160.67,244.07 L161.33,244.18 L162.00,244.30 L162.67,244.42 L163.33,244.53 L164.00,244.65 L164.67,244.77 L165.33,244.88 L166.00,245.00" fill="none" stroke="#a0a0a0" stroke-width="2.70" stroke-linejoin="round" stroke-dasharray="2.48,5.07,15.21,5.37,2.48,5.17" stroke-dashoffset="0.00" clip-path="url(#cb)"/>
<line x1="309.25" y1="21.25" x2="343.75" y2="21.25" stroke="#ff0000" stroke-width="2.7"/>
<text transform="rotate(0.05 302 25.55)" x="302" y="25.55" font-size="12.7" text-anchor="end">10 ms</text>
<line x1="309.25" y1="34.00" x2="343.75" y2="34.00" stroke="#228b22" stroke-width="2.7" stroke-dasharray="10.20,5.35" stroke-dashoffset="0.00"/>
<text transform="rotate(0.05 302 38.30)" x="302" y="38.30" font-size="12.7" text-anchor="end">1 s</text>
<line x1="309.25" y1="46.75" x2="343.75" y2="46.75" stroke="#0000ff" stroke-width="2.7" stroke-dasharray="5.50,7.15" stroke-dashoffset="0.00"/>
<text transform="rotate(0.05 302 51.05)" x="302" y="51.05" font-size="12.7" text-anchor="end">10 s</text>
<line x1="309.25" y1="59.50" x2="343.75" y2="59.50" stroke="#a52a2a" stroke-width="2.7" stroke-dasharray="15.10,5.40,2.50,5.10" stroke-dashoffset="0.00"/>
<text transform="rotate(0.05 302 63.80)" x="302" y="63.80" font-size="12.7" text-anchor="end">30 s</text>
<line x1="309.25" y1="72.25" x2="343.75" y2="72.25" stroke="#a0a0a0" stroke-width="2.7" stroke-dasharray="2.50,5.10,15.30,5.40,2.50,5.20" stroke-dashoffset="0.00"/>
<text transform="rotate(0.05 302 76.55)" x="302" y="76.55" font-size="12.7" text-anchor="end">67 s</text>
<text transform="rotate(0.05 87.00 262)" x="87.00" y="262" font-size="12.7" text-anchor="middle">10</text>
<text transform="rotate(0.05 117.40 262)" x="117.40" y="262" font-size="12.7" text-anchor="middle">20</text>
<text transform="rotate(0.05 147.80 262)" x="147.80" y="262" font-size="12.7" text-anchor="middle">30</text>
<text transform="rotate(0.05 178.20 262)" x="178.20" y="262" font-size="12.7" text-anchor="middle">40</text>
<text transform="rotate(0.05 208.60 262)" x="208.60" y="262" font-size="12.7" text-anchor="middle">50</text>
<text transform="rotate(0.05 239.00 262)" x="239.00" y="262" font-size="12.7" text-anchor="middle">60</text>
<text transform="rotate(0.05 269.40 262)" x="269.40" y="262" font-size="12.7" text-anchor="middle">70</text>
<text transform="rotate(0.05 299.80 262)" x="299.80" y="262" font-size="12.7" text-anchor="middle">80</text>
<text transform="rotate(0.05 330.20 262)" x="330.20" y="262" font-size="12.7" text-anchor="middle">90</text>
<text transform="rotate(0.05 360.60 262)" x="360.60" y="262" font-size="12.7" text-anchor="middle">100</text>
<text transform="rotate(0.05 50.6 146.20)" x="50.6" y="146.20" font-size="12.7" text-anchor="end">10<tspan dy="-6.1" font-size="10.0">8</tspan></text>
<text transform="rotate(0.05 50.6 127.77)" x="50.6" y="127.77" font-size="12.7" text-anchor="end">10<tspan dy="-6.1" font-size="10.0">9</tspan></text>
<text transform="rotate(0.05 50.6 109.34)" x="50.6" y="109.34" font-size="12.7" text-anchor="end">10<tspan dy="-6.1" font-size="10.0">10</tspan></text>
<text transform="rotate(0.05 50.6 90.91)" x="50.6" y="90.91" font-size="12.7" text-anchor="end">10<tspan dy="-6.1" font-size="10.0">11</tspan></text>
<text transform="rotate(0.05 50.6 72.49)" x="50.6" y="72.49" font-size="12.7" text-anchor="end">10<tspan dy="-6.1" font-size="10.0">12</tspan></text>
<text transform="rotate(0.05 50.6 54.06)" x="50.6" y="54.06" font-size="12.7" text-anchor="end">10<tspan dy="-6.1" font-size="10.0">13</tspan></text>
<text transform="rotate(0.05 50.6 35.63)" x="50.6" y="35.63" font-size="12.7" text-anchor="end">10<tspan dy="-6.1" font-size="10.0">14</tspan></text>
<text transform="rotate(0.05 50.6 17.20)" x="50.6" y="17.20" font-size="12.7" text-anchor="end">10<tspan dy="-6.1" font-size="10.0">15</tspan></text>
<text transform="rotate(0.05 50.6 250.40)" x="50.6" y="250.40" font-size="12.7" text-anchor="end">10<tspan dy="-6.1" font-size="10.0">10</tspan></text>
<text transform="rotate(0.05 50.6 197.45)" x="50.6" y="197.45" font-size="12.7" text-anchor="end">10<tspan dy="-6.1" font-size="10.0">11</tspan></text>
<text transform="translate(19.8,75.6) rotate(-90)" font-size="16.3" text-anchor="middle"><tspan font-style="italic">ρ</tspan> [g cm<tspan dy="-7.5" font-size="13.0">-3</tspan><tspan dy="7.5">]</tspan></text>
<text transform="translate(18.6,195.6) rotate(-90)" font-size="16.3" text-anchor="middle" word-spacing="2"><tspan font-style="italic">T</tspan> [K]</text>
<text transform="rotate(0.05 149 281.6)" x="149" y="281.6" font-size="16.3">Radius [km]</text>
</svg>
</body></html>
